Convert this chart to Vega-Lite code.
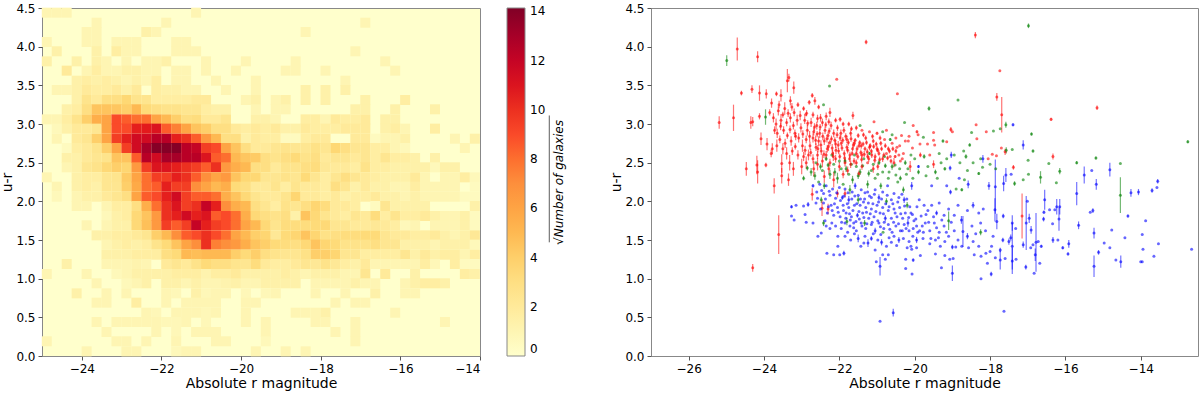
{"$schema":"https://vega.github.io/schema/vega-lite/v6.json","padding":{"left":0,"top":1,"right":0,"bottom":0},"background":"white","spacing":44,
"config":{"view":{"stroke":"#888888","strokeWidth":1},"axis":{"grid":false,"domain":false,"tickColor":"#555555","tickSize":4,"labelFontSize":12,"titleFontSize":14,"labelFont":"DejaVu Sans","titleFont":"DejaVu Sans","titleFontWeight":"normal","labelColor":"black","titleColor":"black","labelPadding":3},"legend":{"labelFont":"DejaVu Sans"}},
"hconcat":[
{"width":438,"height":348,"view":{"fill":"#ffffcc"},"resolve":{"axis":{"y":"independent"}},"layer":[
{"data":{"values":[
{"x":-24.88,"y":4.44,"v":1},{"x":-24.63,"y":4.44,"v":1},{"x":-24.38,"y":4.44,"v":1},{"x":-21.13,"y":4.44,"v":1},
{"x":-23.63,"y":4.31,"v":1},{"x":-21.88,"y":4.31,"v":1},{"x":-16.88,"y":4.31,"v":1},
{"x":-23.88,"y":4.19,"v":1},{"x":-23.63,"y":4.19,"v":1},{"x":-22.38,"y":4.19,"v":1.4},{"x":-22.13,"y":4.19,"v":1},{"x":-18.38,"y":4.19,"v":1},
{"x":-24.88,"y":4.06,"v":1},{"x":-23.88,"y":4.06,"v":1},{"x":-23.63,"y":4.06,"v":1},{"x":-23.13,"y":4.06,"v":1},{"x":-22.88,"y":4.06,"v":1},{"x":-22.63,"y":4.06,"v":1},{"x":-21.63,"y":4.06,"v":1},{"x":-21.38,"y":4.06,"v":1},
{"x":-24.63,"y":3.94,"v":1.4},{"x":-23.63,"y":3.94,"v":1.4},{"x":-23.13,"y":3.94,"v":1.7},{"x":-22.88,"y":3.94,"v":1},{"x":-22.63,"y":3.94,"v":1},{"x":-21.63,"y":3.94,"v":1},{"x":-21.38,"y":3.94,"v":1},{"x":-21.13,"y":3.94,"v":1},{"x":-17.13,"y":3.94,"v":1},
{"x":-24.88,"y":3.81,"v":1.4},{"x":-24.13,"y":3.81,"v":1.4},{"x":-23.63,"y":3.81,"v":1.4},{"x":-23.38,"y":3.81,"v":1},{"x":-22.88,"y":3.81,"v":1},{"x":-22.38,"y":3.81,"v":1},{"x":-22.13,"y":3.81,"v":1},{"x":-21.88,"y":3.81,"v":1.4},{"x":-20.88,"y":3.81,"v":1},{"x":-19.88,"y":3.81,"v":1},{"x":-18.63,"y":3.81,"v":1},{"x":-16.38,"y":3.81,"v":1},
{"x":-24.38,"y":3.69,"v":2},{"x":-23.88,"y":3.69,"v":1},{"x":-23.63,"y":3.69,"v":1.7},{"x":-23.38,"y":3.69,"v":1},{"x":-23.13,"y":3.69,"v":1},{"x":-22.88,"y":3.69,"v":1.4},{"x":-22.63,"y":3.69,"v":1.4},{"x":-22.38,"y":3.69,"v":1},{"x":-22.13,"y":3.69,"v":1},{"x":-21.63,"y":3.69,"v":1},{"x":-21.38,"y":3.69,"v":1},{"x":-20.88,"y":3.69,"v":1},{"x":-20.13,"y":3.69,"v":1},{"x":-18.88,"y":3.69,"v":1},{"x":-18.63,"y":3.69,"v":1},{"x":-17.88,"y":3.69,"v":1},{"x":-16.13,"y":3.69,"v":1},
{"x":-24.13,"y":3.56,"v":1.4},{"x":-23.88,"y":3.56,"v":1.7},{"x":-23.63,"y":3.56,"v":1.4},{"x":-23.38,"y":3.56,"v":1.7},{"x":-23.13,"y":3.56,"v":1.4},{"x":-22.88,"y":3.56,"v":1},{"x":-22.63,"y":3.56,"v":1.4},{"x":-22.38,"y":3.56,"v":1},{"x":-22.13,"y":3.56,"v":1.7},{"x":-21.63,"y":3.56,"v":1},{"x":-21.38,"y":3.56,"v":1},{"x":-20.63,"y":3.56,"v":1},{"x":-19.63,"y":3.56,"v":1},{"x":-17.38,"y":3.56,"v":1},
{"x":-24.63,"y":3.44,"v":1},{"x":-24.38,"y":3.44,"v":1},{"x":-24.13,"y":3.44,"v":1.4},{"x":-23.88,"y":3.44,"v":2},{"x":-23.63,"y":3.44,"v":1.7},{"x":-23.38,"y":3.44,"v":1.7},{"x":-23.13,"y":3.44,"v":2},{"x":-22.88,"y":3.44,"v":1.4},{"x":-22.63,"y":3.44,"v":2},{"x":-22.13,"y":3.44,"v":1.7},{"x":-21.88,"y":3.44,"v":1.4},{"x":-21.63,"y":3.44,"v":1.4},{"x":-21.38,"y":3.44,"v":1},{"x":-21.13,"y":3.44,"v":1},{"x":-20.38,"y":3.44,"v":1},{"x":-19.63,"y":3.44,"v":1},{"x":-18.38,"y":3.44,"v":1.4},{"x":-17.88,"y":3.44,"v":1.4},{"x":-17.38,"y":3.44,"v":1.4},
{"x":-24.13,"y":3.31,"v":1.4},{"x":-23.88,"y":3.31,"v":2.6},{"x":-23.63,"y":3.31,"v":2},{"x":-23.38,"y":3.31,"v":3},{"x":-23.13,"y":3.31,"v":3},{"x":-22.88,"y":3.31,"v":3.6},{"x":-22.63,"y":3.31,"v":2.6},{"x":-22.38,"y":3.31,"v":2.5},{"x":-22.13,"y":3.31,"v":1.7},{"x":-21.88,"y":3.31,"v":1.7},{"x":-21.63,"y":3.31,"v":1.7},{"x":-21.38,"y":3.31,"v":1.7},{"x":-21.13,"y":3.31,"v":2},{"x":-20.88,"y":3.31,"v":2},{"x":-19.88,"y":3.31,"v":1},{"x":-19.63,"y":3.31,"v":1.4},{"x":-19.13,"y":3.31,"v":1},{"x":-18.88,"y":3.31,"v":1.4},{"x":-18.38,"y":3.31,"v":1.4},{"x":-17.88,"y":3.31,"v":1.4},{"x":-16.88,"y":3.31,"v":1.4},{"x":-15.88,"y":3.31,"v":1.7},
{"x":-24.38,"y":3.19,"v":1.4},{"x":-24.13,"y":3.19,"v":1.7},{"x":-23.88,"y":3.19,"v":3},{"x":-23.63,"y":3.19,"v":4.5},{"x":-23.38,"y":3.19,"v":4.5},{"x":-23.13,"y":3.19,"v":4.4},{"x":-22.88,"y":3.19,"v":4},{"x":-22.63,"y":3.19,"v":5},{"x":-22.38,"y":3.19,"v":3.4},{"x":-22.13,"y":3.19,"v":3},{"x":-21.88,"y":3.19,"v":2.7},{"x":-21.63,"y":3.19,"v":2.7},{"x":-21.38,"y":3.19,"v":2.4},{"x":-21.13,"y":3.19,"v":2.4},{"x":-20.88,"y":3.19,"v":1.7},{"x":-20.63,"y":3.19,"v":1.4},{"x":-20.38,"y":3.19,"v":1.4},{"x":-19.63,"y":3.19,"v":1},{"x":-19.13,"y":3.19,"v":1},{"x":-18.88,"y":3.19,"v":1},{"x":-17.13,"y":3.19,"v":1.4},{"x":-16.88,"y":3.19,"v":1.4},{"x":-16.13,"y":3.19,"v":1.4},{"x":-15.13,"y":3.19,"v":1.4},
{"x":-24.88,"y":3.06,"v":1},{"x":-24.63,"y":3.06,"v":1},{"x":-24.38,"y":3.06,"v":1.7},{"x":-24.13,"y":3.06,"v":2.6},{"x":-23.88,"y":3.06,"v":4},{"x":-23.63,"y":3.06,"v":5.5},{"x":-23.38,"y":3.06,"v":6},{"x":-23.13,"y":3.06,"v":9},{"x":-22.88,"y":3.06,"v":8.5},{"x":-22.63,"y":3.06,"v":8},{"x":-22.38,"y":3.06,"v":8},{"x":-22.13,"y":3.06,"v":6},{"x":-21.88,"y":3.06,"v":5},{"x":-21.63,"y":3.06,"v":4},{"x":-21.38,"y":3.06,"v":3},{"x":-21.13,"y":3.06,"v":3.2},{"x":-20.88,"y":3.06,"v":2},{"x":-20.63,"y":3.06,"v":2},{"x":-20.38,"y":3.06,"v":2.5},{"x":-19.63,"y":3.06,"v":1.4},{"x":-19.38,"y":3.06,"v":1.4},{"x":-19.13,"y":3.06,"v":1},{"x":-18.38,"y":3.06,"v":1.7},{"x":-18.13,"y":3.06,"v":1.7},{"x":-17.88,"y":3.06,"v":1},{"x":-17.63,"y":3.06,"v":2},{"x":-17.38,"y":3.06,"v":1.7},{"x":-17.13,"y":3.06,"v":1.7},{"x":-16.88,"y":3.06,"v":2},{"x":-16.38,"y":3.06,"v":1.4},{"x":-16.13,"y":3.06,"v":1.4},
{"x":-24.63,"y":2.94,"v":0.7},{"x":-24.38,"y":2.94,"v":1.4},{"x":-24.13,"y":2.94,"v":2},{"x":-23.88,"y":2.94,"v":2},{"x":-23.63,"y":2.94,"v":2.4},{"x":-23.38,"y":2.94,"v":6},{"x":-23.13,"y":2.94,"v":9},{"x":-22.88,"y":2.94,"v":9},{"x":-22.63,"y":2.94,"v":10.5},{"x":-22.38,"y":2.94,"v":10.6},{"x":-22.13,"y":2.94,"v":11},{"x":-21.88,"y":2.94,"v":8.5},{"x":-21.63,"y":2.94,"v":7.5},{"x":-21.38,"y":2.94,"v":6},{"x":-21.13,"y":2.94,"v":4.5},{"x":-20.88,"y":2.94,"v":4},{"x":-20.63,"y":2.94,"v":3},{"x":-20.38,"y":2.94,"v":3},{"x":-20.13,"y":2.94,"v":2},{"x":-19.88,"y":2.94,"v":1.7},{"x":-19.63,"y":2.94,"v":2},{"x":-19.38,"y":2.94,"v":1.7},{"x":-19.13,"y":2.94,"v":2},{"x":-18.88,"y":2.94,"v":1.4},{"x":-18.63,"y":2.94,"v":1.4},{"x":-18.38,"y":2.94,"v":2},{"x":-18.13,"y":2.94,"v":1.7},{"x":-17.88,"y":2.94,"v":1.7},{"x":-17.63,"y":2.94,"v":1.7},{"x":-17.38,"y":2.94,"v":2},{"x":-17.13,"y":2.94,"v":2},{"x":-16.88,"y":2.94,"v":2},{"x":-16.38,"y":2.94,"v":1.4},{"x":-16.13,"y":2.94,"v":1.7},{"x":-15.88,"y":2.94,"v":1},{"x":-15.13,"y":2.94,"v":1.7},
{"x":-24.63,"y":2.81,"v":1},{"x":-24.13,"y":2.81,"v":2},{"x":-23.88,"y":2.81,"v":2.4},{"x":-23.63,"y":2.81,"v":4},{"x":-23.38,"y":2.81,"v":6},{"x":-23.13,"y":2.81,"v":9.5},{"x":-22.88,"y":2.81,"v":10.5},{"x":-22.63,"y":2.81,"v":11.5},{"x":-22.38,"y":2.81,"v":11.5},{"x":-22.13,"y":2.81,"v":12.5},{"x":-21.88,"y":2.81,"v":12.5},{"x":-21.63,"y":2.81,"v":10.5},{"x":-21.38,"y":2.81,"v":10},{"x":-21.13,"y":2.81,"v":8.5},{"x":-20.88,"y":2.81,"v":6.5},{"x":-20.63,"y":2.81,"v":5},{"x":-20.38,"y":2.81,"v":3},{"x":-20.13,"y":2.81,"v":3},{"x":-19.88,"y":2.81,"v":1.4},{"x":-19.63,"y":2.81,"v":2},{"x":-19.38,"y":2.81,"v":1.7},{"x":-19.13,"y":2.81,"v":1.7},{"x":-18.88,"y":2.81,"v":0.5},{"x":-18.63,"y":2.81,"v":0.5},{"x":-18.38,"y":2.81,"v":1.7},{"x":-18.13,"y":2.81,"v":2},{"x":-17.88,"y":2.81,"v":2},{"x":-17.13,"y":2.81,"v":2},{"x":-16.88,"y":2.81,"v":2},{"x":-16.63,"y":2.81,"v":0.5},{"x":-16.38,"y":2.81,"v":1},{"x":-16.13,"y":2.81,"v":1},{"x":-15.88,"y":2.81,"v":1.4},{"x":-14.63,"y":2.81,"v":1},{"x":-14.13,"y":2.81,"v":1.4},
{"x":-24.38,"y":2.69,"v":0.5},{"x":-24.13,"y":2.69,"v":1.7},{"x":-23.88,"y":2.69,"v":2},{"x":-23.63,"y":2.69,"v":2.6},{"x":-23.38,"y":2.69,"v":4},{"x":-23.13,"y":2.69,"v":6},{"x":-22.88,"y":2.69,"v":9.5},{"x":-22.63,"y":2.69,"v":11.5},{"x":-22.38,"y":2.69,"v":13},{"x":-22.13,"y":2.69,"v":14},{"x":-21.88,"y":2.69,"v":14},{"x":-21.63,"y":2.69,"v":14},{"x":-21.38,"y":2.69,"v":12.5},{"x":-21.13,"y":2.69,"v":12},{"x":-20.88,"y":2.69,"v":9.5},{"x":-20.63,"y":2.69,"v":9},{"x":-20.38,"y":2.69,"v":6},{"x":-20.13,"y":2.69,"v":4.5},{"x":-19.88,"y":2.69,"v":3},{"x":-19.63,"y":2.69,"v":2},{"x":-19.38,"y":2.69,"v":2},{"x":-19.13,"y":2.69,"v":2.4},{"x":-18.88,"y":2.69,"v":2.6},{"x":-18.63,"y":2.69,"v":2.4},{"x":-18.38,"y":2.69,"v":2.4},{"x":-18.13,"y":2.69,"v":2.8},{"x":-17.88,"y":2.69,"v":2.4},{"x":-17.63,"y":2.69,"v":3.6},{"x":-17.38,"y":2.69,"v":3},{"x":-17.13,"y":2.69,"v":2.4},{"x":-16.88,"y":2.69,"v":2.4},{"x":-16.63,"y":2.69,"v":1.7},{"x":-16.38,"y":2.69,"v":1.7},{"x":-16.13,"y":2.69,"v":1},{"x":-15.88,"y":2.69,"v":0.7},{"x":-14.38,"y":2.69,"v":1},
{"x":-24.38,"y":2.56,"v":1.4},{"x":-24.13,"y":2.56,"v":1.4},{"x":-23.88,"y":2.56,"v":2},{"x":-23.63,"y":2.56,"v":2.4},{"x":-23.38,"y":2.56,"v":2.6},{"x":-23.13,"y":2.56,"v":4.5},{"x":-22.88,"y":2.56,"v":4.5},{"x":-22.63,"y":2.56,"v":8.5},{"x":-22.38,"y":2.56,"v":12.5},{"x":-22.13,"y":2.56,"v":11.5},{"x":-21.88,"y":2.56,"v":13},{"x":-21.63,"y":2.56,"v":13},{"x":-21.38,"y":2.56,"v":12.5},{"x":-21.13,"y":2.56,"v":12.5},{"x":-20.88,"y":2.56,"v":11},{"x":-20.63,"y":2.56,"v":8.5},{"x":-20.38,"y":2.56,"v":8},{"x":-20.13,"y":2.56,"v":5},{"x":-19.88,"y":2.56,"v":4.4},{"x":-19.63,"y":2.56,"v":4.2},{"x":-19.38,"y":2.56,"v":3},{"x":-19.13,"y":2.56,"v":2.6},{"x":-18.88,"y":2.56,"v":3},{"x":-18.63,"y":2.56,"v":3.4},{"x":-18.38,"y":2.56,"v":2.7},{"x":-18.13,"y":2.56,"v":3},{"x":-17.88,"y":2.56,"v":2},{"x":-17.63,"y":2.56,"v":2.4},{"x":-17.38,"y":2.56,"v":2.4},{"x":-17.13,"y":2.56,"v":2},{"x":-16.88,"y":2.56,"v":2.4},{"x":-16.63,"y":2.56,"v":1.7},{"x":-16.38,"y":2.56,"v":2.4},{"x":-16.13,"y":2.56,"v":1.7},{"x":-15.88,"y":2.56,"v":1.7},{"x":-15.63,"y":2.56,"v":1.4},{"x":-15.13,"y":2.56,"v":1.4},
{"x":-24.38,"y":2.44,"v":1},{"x":-24.13,"y":2.44,"v":1.4},{"x":-23.88,"y":2.44,"v":2.4},{"x":-23.63,"y":2.44,"v":2.7},{"x":-23.38,"y":2.44,"v":3.5},{"x":-23.13,"y":2.44,"v":4},{"x":-22.88,"y":2.44,"v":3.7},{"x":-22.63,"y":2.44,"v":6.5},{"x":-22.38,"y":2.44,"v":9.5},{"x":-22.13,"y":2.44,"v":11},{"x":-21.88,"y":2.44,"v":11},{"x":-21.63,"y":2.44,"v":10.5},{"x":-21.38,"y":2.44,"v":10},{"x":-21.13,"y":2.44,"v":9.5},{"x":-20.88,"y":2.44,"v":8.5},{"x":-20.63,"y":2.44,"v":10},{"x":-20.38,"y":2.44,"v":6.5},{"x":-20.13,"y":2.44,"v":5.5},{"x":-19.88,"y":2.44,"v":5},{"x":-19.63,"y":2.44,"v":3},{"x":-19.38,"y":2.44,"v":3},{"x":-19.13,"y":2.44,"v":2},{"x":-18.88,"y":2.44,"v":2.6},{"x":-18.63,"y":2.44,"v":2.6},{"x":-18.38,"y":2.44,"v":3},{"x":-18.13,"y":2.44,"v":3.2},{"x":-17.88,"y":2.44,"v":2.2},{"x":-17.63,"y":2.44,"v":2},{"x":-17.38,"y":2.44,"v":2},{"x":-17.13,"y":2.44,"v":1.7},{"x":-16.88,"y":2.44,"v":2.7},{"x":-16.63,"y":2.44,"v":1.7},{"x":-16.38,"y":2.44,"v":1.7},{"x":-16.13,"y":2.44,"v":1.4},{"x":-15.88,"y":2.44,"v":1.4},{"x":-15.63,"y":2.44,"v":1.4},{"x":-15.38,"y":2.44,"v":1.4},{"x":-15.13,"y":2.44,"v":0.7},{"x":-14.88,"y":2.44,"v":1.4},{"x":-14.63,"y":2.44,"v":1.4},
{"x":-24.88,"y":2.31,"v":1},{"x":-24.13,"y":2.31,"v":1.4},{"x":-23.88,"y":2.31,"v":1.7},{"x":-23.63,"y":2.31,"v":1.7},{"x":-23.38,"y":2.31,"v":2.4},{"x":-23.13,"y":2.31,"v":2.5},{"x":-22.88,"y":2.31,"v":4.2},{"x":-22.63,"y":2.31,"v":6},{"x":-22.38,"y":2.31,"v":8},{"x":-22.13,"y":2.31,"v":9.5},{"x":-21.88,"y":2.31,"v":9.5},{"x":-21.63,"y":2.31,"v":10.5},{"x":-21.38,"y":2.31,"v":10},{"x":-21.13,"y":2.31,"v":8.5},{"x":-20.88,"y":2.31,"v":7},{"x":-20.63,"y":2.31,"v":6},{"x":-20.38,"y":2.31,"v":6.5},{"x":-20.13,"y":2.31,"v":4.5},{"x":-19.88,"y":2.31,"v":3.6},{"x":-19.63,"y":2.31,"v":3.6},{"x":-19.38,"y":2.31,"v":2.4},{"x":-19.13,"y":2.31,"v":2.4},{"x":-18.88,"y":2.31,"v":2.7},{"x":-18.63,"y":2.31,"v":2.4},{"x":-18.38,"y":2.31,"v":3.4},{"x":-18.13,"y":2.31,"v":2.4},{"x":-17.88,"y":2.31,"v":1.7},{"x":-17.63,"y":2.31,"v":2.4},{"x":-17.38,"y":2.31,"v":3},{"x":-17.13,"y":2.31,"v":2.4},{"x":-16.88,"y":2.31,"v":2},{"x":-16.63,"y":2.31,"v":1.7},{"x":-16.38,"y":2.31,"v":1.4},{"x":-16.13,"y":2.31,"v":1.4},{"x":-15.88,"y":2.31,"v":1.4},{"x":-15.63,"y":2.31,"v":2},{"x":-15.38,"y":2.31,"v":1},{"x":-14.88,"y":2.31,"v":1},{"x":-14.63,"y":2.31,"v":1},{"x":-14.38,"y":2.31,"v":1.7},{"x":-14.13,"y":2.31,"v":0.7},
{"x":-24.63,"y":2.19,"v":1},{"x":-24.13,"y":2.19,"v":1.4},{"x":-23.88,"y":2.19,"v":1.7},{"x":-23.63,"y":2.19,"v":1.4},{"x":-23.38,"y":2.19,"v":2.4},{"x":-23.13,"y":2.19,"v":2.4},{"x":-22.88,"y":2.19,"v":4},{"x":-22.63,"y":2.19,"v":5.7},{"x":-22.38,"y":2.19,"v":8},{"x":-22.13,"y":2.19,"v":8.5},{"x":-21.88,"y":2.19,"v":10.5},{"x":-21.63,"y":2.19,"v":9.5},{"x":-21.38,"y":2.19,"v":9.5},{"x":-21.13,"y":2.19,"v":7},{"x":-20.88,"y":2.19,"v":6},{"x":-20.63,"y":2.19,"v":5},{"x":-20.38,"y":2.19,"v":5.5},{"x":-20.13,"y":2.19,"v":3.4},{"x":-19.88,"y":2.19,"v":3},{"x":-19.63,"y":2.19,"v":2},{"x":-19.38,"y":2.19,"v":2},{"x":-19.13,"y":2.19,"v":2.5},{"x":-18.88,"y":2.19,"v":1.7},{"x":-18.63,"y":2.19,"v":2.5},{"x":-18.38,"y":2.19,"v":2},{"x":-18.13,"y":2.19,"v":2},{"x":-17.88,"y":2.19,"v":1.7},{"x":-17.63,"y":2.19,"v":3},{"x":-17.38,"y":2.19,"v":2.4},{"x":-17.13,"y":2.19,"v":1.4},{"x":-16.88,"y":2.19,"v":2},{"x":-16.63,"y":2.19,"v":1.4},{"x":-16.38,"y":2.19,"v":1.4},{"x":-16.13,"y":2.19,"v":1},{"x":-15.88,"y":2.19,"v":1},{"x":-15.63,"y":2.19,"v":1.7},{"x":-15.38,"y":2.19,"v":1},{"x":-15.13,"y":2.19,"v":1},{"x":-14.88,"y":2.19,"v":1},{"x":-14.63,"y":2.19,"v":1},{"x":-14.13,"y":2.19,"v":0.5},
{"x":-24.63,"y":2.06,"v":0.7},{"x":-24.13,"y":2.06,"v":1},{"x":-23.88,"y":2.06,"v":1.4},{"x":-23.63,"y":2.06,"v":1.4},{"x":-23.38,"y":2.06,"v":2},{"x":-23.13,"y":2.06,"v":2.4},{"x":-22.88,"y":2.06,"v":3},{"x":-22.63,"y":2.06,"v":6},{"x":-22.38,"y":2.06,"v":8.5},{"x":-22.13,"y":2.06,"v":9},{"x":-21.88,"y":2.06,"v":10.5},{"x":-21.63,"y":2.06,"v":11.5},{"x":-21.38,"y":2.06,"v":9.5},{"x":-21.13,"y":2.06,"v":8.5},{"x":-20.88,"y":2.06,"v":8.5},{"x":-20.63,"y":2.06,"v":8},{"x":-20.38,"y":2.06,"v":5.5},{"x":-20.13,"y":2.06,"v":4.5},{"x":-19.88,"y":2.06,"v":3.5},{"x":-19.63,"y":2.06,"v":2.5},{"x":-19.38,"y":2.06,"v":2},{"x":-19.13,"y":2.06,"v":2},{"x":-18.88,"y":2.06,"v":2.5},{"x":-18.63,"y":2.06,"v":3.7},{"x":-18.38,"y":2.06,"v":2},{"x":-18.13,"y":2.06,"v":2},{"x":-17.88,"y":2.06,"v":1.7},{"x":-17.63,"y":2.06,"v":2},{"x":-17.38,"y":2.06,"v":1.4},{"x":-17.13,"y":2.06,"v":1.7},{"x":-16.88,"y":2.06,"v":1.7},{"x":-16.63,"y":2.06,"v":2},{"x":-16.38,"y":2.06,"v":1.4},{"x":-16.13,"y":2.06,"v":1.4},{"x":-15.88,"y":2.06,"v":1},{"x":-15.63,"y":2.06,"v":1.4},{"x":-15.38,"y":2.06,"v":1},{"x":-15.13,"y":2.06,"v":1},{"x":-14.88,"y":2.06,"v":1},{"x":-14.63,"y":2.06,"v":1},{"x":-14.38,"y":2.06,"v":0.5},{"x":-14.13,"y":2.06,"v":0.5},
{"x":-24.13,"y":1.94,"v":1},{"x":-23.88,"y":1.94,"v":1},{"x":-23.38,"y":1.94,"v":1},{"x":-23.13,"y":1.94,"v":1.7},{"x":-22.88,"y":1.94,"v":1.7},{"x":-22.63,"y":1.94,"v":3},{"x":-22.38,"y":1.94,"v":5.5},{"x":-22.13,"y":1.94,"v":8},{"x":-21.88,"y":1.94,"v":10},{"x":-21.63,"y":1.94,"v":11},{"x":-21.38,"y":1.94,"v":9.5},{"x":-21.13,"y":1.94,"v":10},{"x":-20.88,"y":1.94,"v":12},{"x":-20.63,"y":1.94,"v":10.5},{"x":-20.38,"y":1.94,"v":7},{"x":-20.13,"y":1.94,"v":5.5},{"x":-19.88,"y":1.94,"v":5},{"x":-19.63,"y":1.94,"v":3},{"x":-19.38,"y":1.94,"v":2.4},{"x":-19.13,"y":1.94,"v":1.7},{"x":-18.88,"y":1.94,"v":2.7},{"x":-18.63,"y":1.94,"v":2.4},{"x":-18.38,"y":1.94,"v":3},{"x":-18.13,"y":1.94,"v":3.7},{"x":-17.88,"y":1.94,"v":3.2},{"x":-17.63,"y":1.94,"v":2},{"x":-17.38,"y":1.94,"v":2},{"x":-17.13,"y":1.94,"v":1.7},{"x":-16.63,"y":1.94,"v":0.5},{"x":-16.38,"y":1.94,"v":2.4},{"x":-16.13,"y":1.94,"v":1.4},{"x":-15.88,"y":1.94,"v":1.4},{"x":-15.63,"y":1.94,"v":1.4},{"x":-15.38,"y":1.94,"v":1.4},{"x":-14.13,"y":1.94,"v":1.4},
{"x":-23.38,"y":1.81,"v":0.7},{"x":-23.13,"y":1.81,"v":1.4},{"x":-22.88,"y":1.81,"v":1.7},{"x":-22.63,"y":1.81,"v":3.5},{"x":-22.38,"y":1.81,"v":4.5},{"x":-22.13,"y":1.81,"v":6.5},{"x":-21.88,"y":1.81,"v":10},{"x":-21.63,"y":1.81,"v":10.5},{"x":-21.38,"y":1.81,"v":11.5},{"x":-21.13,"y":1.81,"v":10.5},{"x":-20.88,"y":1.81,"v":11},{"x":-20.63,"y":1.81,"v":8.5},{"x":-20.38,"y":1.81,"v":9},{"x":-20.13,"y":1.81,"v":8},{"x":-19.88,"y":1.81,"v":5.5},{"x":-19.63,"y":1.81,"v":3.5},{"x":-19.38,"y":1.81,"v":3},{"x":-19.13,"y":1.81,"v":2.7},{"x":-18.88,"y":1.81,"v":3},{"x":-18.63,"y":1.81,"v":1.4},{"x":-18.38,"y":1.81,"v":4.5},{"x":-18.13,"y":1.81,"v":3.5},{"x":-17.88,"y":1.81,"v":2.5},{"x":-17.63,"y":1.81,"v":2},{"x":-17.38,"y":1.81,"v":1.7},{"x":-17.13,"y":1.81,"v":2.4},{"x":-16.88,"y":1.81,"v":2},{"x":-16.63,"y":1.81,"v":3.2},{"x":-16.38,"y":1.81,"v":1.7},{"x":-16.13,"y":1.81,"v":2.5},{"x":-15.88,"y":1.81,"v":1.7},{"x":-15.63,"y":1.81,"v":1.7},{"x":-15.38,"y":1.81,"v":2},{"x":-15.13,"y":1.81,"v":1.4},{"x":-14.88,"y":1.81,"v":1},{"x":-14.63,"y":1.81,"v":1},{"x":-14.38,"y":1.81,"v":1.4},{"x":-14.13,"y":1.81,"v":0.5},
{"x":-23.88,"y":1.69,"v":1},{"x":-23.38,"y":1.69,"v":1},{"x":-23.13,"y":1.69,"v":1.4},{"x":-22.88,"y":1.69,"v":1.4},{"x":-22.63,"y":1.69,"v":3.5},{"x":-22.38,"y":1.69,"v":4.7},{"x":-22.13,"y":1.69,"v":6.5},{"x":-21.88,"y":1.69,"v":9.5},{"x":-21.63,"y":1.69,"v":8.5},{"x":-21.38,"y":1.69,"v":9.5},{"x":-21.13,"y":1.69,"v":12},{"x":-20.88,"y":1.69,"v":10.5},{"x":-20.63,"y":1.69,"v":9.5},{"x":-20.38,"y":1.69,"v":9},{"x":-20.13,"y":1.69,"v":8},{"x":-19.88,"y":1.69,"v":6},{"x":-19.63,"y":1.69,"v":5},{"x":-19.38,"y":1.69,"v":3.5},{"x":-19.13,"y":1.69,"v":2.5},{"x":-18.88,"y":1.69,"v":3.2},{"x":-18.63,"y":1.69,"v":3.2},{"x":-18.38,"y":1.69,"v":3.2},{"x":-18.13,"y":1.69,"v":3.4},{"x":-17.88,"y":1.69,"v":3.5},{"x":-17.63,"y":1.69,"v":2.4},{"x":-17.38,"y":1.69,"v":2.4},{"x":-17.13,"y":1.69,"v":2},{"x":-16.88,"y":1.69,"v":2},{"x":-16.63,"y":1.69,"v":2.2},{"x":-16.38,"y":1.69,"v":2},{"x":-16.13,"y":1.69,"v":1.7},{"x":-15.88,"y":1.69,"v":0.7},{"x":-15.63,"y":1.69,"v":1},{"x":-15.13,"y":1.69,"v":1},{"x":-14.88,"y":1.69,"v":1},{"x":-14.63,"y":1.69,"v":1},{"x":-14.38,"y":1.69,"v":1.4},{"x":-14.13,"y":1.69,"v":0.5},
{"x":-23.63,"y":1.56,"v":1.4},{"x":-23.38,"y":1.56,"v":1.4},{"x":-23.13,"y":1.56,"v":1.7},{"x":-22.88,"y":1.56,"v":1.7},{"x":-22.63,"y":1.56,"v":2},{"x":-22.38,"y":1.56,"v":2.4},{"x":-22.13,"y":1.56,"v":4},{"x":-21.88,"y":1.56,"v":5},{"x":-21.63,"y":1.56,"v":7},{"x":-21.38,"y":1.56,"v":8.5},{"x":-21.13,"y":1.56,"v":9},{"x":-20.88,"y":1.56,"v":10},{"x":-20.63,"y":1.56,"v":9},{"x":-20.38,"y":1.56,"v":8},{"x":-20.13,"y":1.56,"v":6},{"x":-19.88,"y":1.56,"v":5},{"x":-19.63,"y":1.56,"v":4},{"x":-19.38,"y":1.56,"v":3.7},{"x":-19.13,"y":1.56,"v":2.2},{"x":-18.88,"y":1.56,"v":3.4},{"x":-18.63,"y":1.56,"v":3.7},{"x":-18.38,"y":1.56,"v":4.5},{"x":-18.13,"y":1.56,"v":3.7},{"x":-17.88,"y":1.56,"v":2.8},{"x":-17.63,"y":1.56,"v":3},{"x":-17.38,"y":1.56,"v":3.2},{"x":-17.13,"y":1.56,"v":3.2},{"x":-16.88,"y":1.56,"v":3.4},{"x":-16.63,"y":1.56,"v":3.4},{"x":-16.38,"y":1.56,"v":2.4},{"x":-16.13,"y":1.56,"v":2},{"x":-15.88,"y":1.56,"v":2},{"x":-15.63,"y":1.56,"v":1.7},{"x":-15.38,"y":1.56,"v":1.7},{"x":-15.13,"y":1.56,"v":2},{"x":-14.88,"y":1.56,"v":1.4},{"x":-14.63,"y":1.56,"v":1},{"x":-14.38,"y":1.56,"v":1.4},{"x":-14.13,"y":1.56,"v":2.2},
{"x":-23.38,"y":1.44,"v":1},{"x":-23.13,"y":1.44,"v":1.4},{"x":-22.88,"y":1.44,"v":1.7},{"x":-22.63,"y":1.44,"v":1.4},{"x":-22.38,"y":1.44,"v":1.7},{"x":-22.13,"y":1.44,"v":2.6},{"x":-21.88,"y":1.44,"v":3.4},{"x":-21.63,"y":1.44,"v":4.5},{"x":-21.38,"y":1.44,"v":6},{"x":-21.13,"y":1.44,"v":7},{"x":-20.88,"y":1.44,"v":10},{"x":-20.63,"y":1.44,"v":7.5},{"x":-20.38,"y":1.44,"v":7},{"x":-20.13,"y":1.44,"v":6.5},{"x":-19.88,"y":1.44,"v":5.5},{"x":-19.63,"y":1.44,"v":4.5},{"x":-19.38,"y":1.44,"v":4},{"x":-19.13,"y":1.44,"v":3.4},{"x":-18.88,"y":1.44,"v":3.2},{"x":-18.63,"y":1.44,"v":3},{"x":-18.38,"y":1.44,"v":3.5},{"x":-18.13,"y":1.44,"v":4.5},{"x":-17.88,"y":1.44,"v":3.7},{"x":-17.63,"y":1.44,"v":3.4},{"x":-17.38,"y":1.44,"v":2.7},{"x":-17.13,"y":1.44,"v":2.7},{"x":-16.88,"y":1.44,"v":2.7},{"x":-16.63,"y":1.44,"v":3},{"x":-16.38,"y":1.44,"v":2.4},{"x":-16.13,"y":1.44,"v":2.4},{"x":-15.88,"y":1.44,"v":1.4},{"x":-15.63,"y":1.44,"v":1.4},{"x":-15.38,"y":1.44,"v":1.4},{"x":-15.13,"y":1.44,"v":1},{"x":-14.88,"y":1.44,"v":1.4},{"x":-14.63,"y":1.44,"v":1.4},{"x":-14.38,"y":1.44,"v":1.4},{"x":-14.13,"y":1.44,"v":0.7},
{"x":-23.38,"y":1.31,"v":1.4},{"x":-23.13,"y":1.31,"v":1.4},{"x":-22.88,"y":1.31,"v":1.4},{"x":-22.63,"y":1.31,"v":1.7},{"x":-22.38,"y":1.31,"v":1.7},{"x":-22.13,"y":1.31,"v":1.7},{"x":-21.88,"y":1.31,"v":3},{"x":-21.63,"y":1.31,"v":3.4},{"x":-21.38,"y":1.31,"v":5},{"x":-21.13,"y":1.31,"v":4.8},{"x":-20.88,"y":1.31,"v":5},{"x":-20.63,"y":1.31,"v":5},{"x":-20.38,"y":1.31,"v":5},{"x":-20.13,"y":1.31,"v":4},{"x":-19.88,"y":1.31,"v":3.4},{"x":-19.63,"y":1.31,"v":4},{"x":-19.38,"y":1.31,"v":3},{"x":-19.13,"y":1.31,"v":2.6},{"x":-18.88,"y":1.31,"v":2.4},{"x":-18.63,"y":1.31,"v":2.4},{"x":-18.38,"y":1.31,"v":2.8},{"x":-18.13,"y":1.31,"v":4},{"x":-17.88,"y":1.31,"v":4},{"x":-17.63,"y":1.31,"v":3.7},{"x":-17.38,"y":1.31,"v":2.4},{"x":-17.13,"y":1.31,"v":2.4},{"x":-16.88,"y":1.31,"v":1.7},{"x":-16.63,"y":1.31,"v":1.7},{"x":-16.38,"y":1.31,"v":1.7},{"x":-16.13,"y":1.31,"v":1.7},{"x":-15.88,"y":1.31,"v":2.4},{"x":-15.63,"y":1.31,"v":1.4},{"x":-15.38,"y":1.31,"v":2},{"x":-15.13,"y":1.31,"v":1.4},{"x":-14.88,"y":1.31,"v":1.7},{"x":-14.63,"y":1.31,"v":1.7},{"x":-14.38,"y":1.31,"v":1},{"x":-14.13,"y":1.31,"v":1.7},
{"x":-24.38,"y":1.19,"v":1.4},{"x":-23.38,"y":1.19,"v":1},{"x":-23.13,"y":1.19,"v":1},{"x":-22.88,"y":1.19,"v":1},{"x":-22.63,"y":1.19,"v":1.2},{"x":-22.38,"y":1.19,"v":1},{"x":-21.88,"y":1.19,"v":2},{"x":-21.63,"y":1.19,"v":2.4},{"x":-21.38,"y":1.19,"v":2},{"x":-21.13,"y":1.19,"v":2.7},{"x":-20.88,"y":1.19,"v":3.4},{"x":-20.63,"y":1.19,"v":3},{"x":-20.38,"y":1.19,"v":3},{"x":-20.13,"y":1.19,"v":2.5},{"x":-19.88,"y":1.19,"v":2.4},{"x":-19.63,"y":1.19,"v":3.2},{"x":-19.38,"y":1.19,"v":2},{"x":-19.13,"y":1.19,"v":1.7},{"x":-18.88,"y":1.19,"v":1.7},{"x":-18.63,"y":1.19,"v":2},{"x":-18.38,"y":1.19,"v":2.4},{"x":-18.13,"y":1.19,"v":2.2},{"x":-17.88,"y":1.19,"v":2.7},{"x":-17.63,"y":1.19,"v":2.2},{"x":-17.38,"y":1.19,"v":1.7},{"x":-17.13,"y":1.19,"v":1.4},{"x":-16.88,"y":1.19,"v":2},{"x":-16.63,"y":1.19,"v":1},{"x":-16.38,"y":1.19,"v":1},{"x":-16.13,"y":1.19,"v":1},{"x":-15.88,"y":1.19,"v":1},{"x":-15.63,"y":1.19,"v":1},{"x":-15.38,"y":1.19,"v":1.7},{"x":-15.13,"y":1.19,"v":0.8},{"x":-14.63,"y":1.19,"v":1.7},{"x":-14.38,"y":1.19,"v":0.5},{"x":-14.13,"y":1.19,"v":0.5},
{"x":-24.88,"y":1.06,"v":1},{"x":-23.88,"y":1.06,"v":1},{"x":-23.13,"y":1.06,"v":0.7},{"x":-22.88,"y":1.06,"v":1},{"x":-22.63,"y":1.06,"v":1.4},{"x":-22.38,"y":1.06,"v":1.4},{"x":-22.13,"y":1.06,"v":1.4},{"x":-21.88,"y":1.06,"v":1.4},{"x":-21.63,"y":1.06,"v":1.7},{"x":-21.38,"y":1.06,"v":1.7},{"x":-21.13,"y":1.06,"v":1.7},{"x":-20.88,"y":1.06,"v":1.2},{"x":-20.63,"y":1.06,"v":1.7},{"x":-20.38,"y":1.06,"v":1.7},{"x":-20.13,"y":1.06,"v":2},{"x":-19.88,"y":1.06,"v":1.4},{"x":-19.63,"y":1.06,"v":1.4},{"x":-19.38,"y":1.06,"v":1.4},{"x":-19.13,"y":1.06,"v":1.4},{"x":-18.88,"y":1.06,"v":1.7},{"x":-18.63,"y":1.06,"v":1.4},{"x":-18.38,"y":1.06,"v":1},{"x":-18.13,"y":1.06,"v":1.4},{"x":-17.88,"y":1.06,"v":1.4},{"x":-17.63,"y":1.06,"v":1.4},{"x":-17.38,"y":1.06,"v":1},{"x":-17.13,"y":1.06,"v":1},{"x":-16.88,"y":1.06,"v":2.4},{"x":-16.38,"y":1.06,"v":2},{"x":-15.63,"y":1.06,"v":1.4},{"x":-14.38,"y":1.06,"v":1.7},{"x":-14.13,"y":1.06,"v":1.4},
{"x":-23.63,"y":0.94,"v":1},{"x":-22.88,"y":0.94,"v":0.7},{"x":-22.63,"y":0.94,"v":1},{"x":-22.38,"y":0.94,"v":1.4},{"x":-21.88,"y":0.94,"v":1.4},{"x":-21.63,"y":0.94,"v":1.4},{"x":-21.38,"y":0.94,"v":1},{"x":-21.13,"y":0.94,"v":1.4},{"x":-20.88,"y":0.94,"v":1},{"x":-20.63,"y":0.94,"v":1},{"x":-20.38,"y":0.94,"v":1.2},{"x":-20.13,"y":0.94,"v":1.4},{"x":-19.88,"y":0.94,"v":1},{"x":-19.63,"y":0.94,"v":1},{"x":-19.38,"y":0.94,"v":1.4},{"x":-19.13,"y":0.94,"v":1.4},{"x":-18.88,"y":0.94,"v":1.4},{"x":-18.63,"y":0.94,"v":1.4},{"x":-18.13,"y":0.94,"v":1},{"x":-17.88,"y":0.94,"v":1},{"x":-17.63,"y":0.94,"v":1},{"x":-17.38,"y":0.94,"v":1},{"x":-17.13,"y":0.94,"v":1.4},{"x":-16.88,"y":0.94,"v":1},{"x":-16.63,"y":0.94,"v":1},{"x":-15.88,"y":0.94,"v":1},{"x":-15.63,"y":0.94,"v":1.4},{"x":-15.38,"y":0.94,"v":1.7},{"x":-15.13,"y":0.94,"v":1.7},{"x":-14.88,"y":0.94,"v":1.4},
{"x":-24.13,"y":0.81,"v":1.4},{"x":-23.38,"y":0.81,"v":1},{"x":-22.88,"y":0.81,"v":1},{"x":-21.88,"y":0.81,"v":1},{"x":-21.63,"y":0.81,"v":0.8},{"x":-21.13,"y":0.81,"v":1.4},{"x":-20.63,"y":0.81,"v":1},{"x":-20.88,"y":0.81,"v":0.8},{"x":-20.38,"y":0.81,"v":1},{"x":-19.88,"y":0.81,"v":0.8},{"x":-19.38,"y":0.81,"v":0.8},{"x":-19.13,"y":0.81,"v":1},{"x":-18.13,"y":0.81,"v":1},{"x":-17.38,"y":0.81,"v":1},{"x":-16.63,"y":0.81,"v":1.4},{"x":-15.88,"y":0.81,"v":1},{"x":-15.63,"y":0.81,"v":1},
{"x":-23.63,"y":0.69,"v":1},{"x":-23.38,"y":0.69,"v":1},{"x":-22.63,"y":0.69,"v":1.7},{"x":-21.88,"y":0.69,"v":1},{"x":-21.38,"y":0.69,"v":1},{"x":-21.13,"y":0.69,"v":1},{"x":-20.88,"y":0.69,"v":1},{"x":-20.63,"y":0.69,"v":1},{"x":-19.88,"y":0.69,"v":1},{"x":-19.63,"y":0.69,"v":1},{"x":-17.63,"y":0.69,"v":1},{"x":-17.13,"y":0.69,"v":1},{"x":-16.88,"y":0.69,"v":1},
{"x":-22.38,"y":0.56,"v":1},{"x":-22.13,"y":0.56,"v":0.8},{"x":-21.63,"y":0.56,"v":1},{"x":-21.38,"y":0.56,"v":1},{"x":-21.13,"y":0.56,"v":1},{"x":-20.88,"y":0.56,"v":0.8},{"x":-20.63,"y":0.56,"v":1},{"x":-19.88,"y":0.56,"v":1},{"x":-18.63,"y":0.56,"v":1},{"x":-18.38,"y":0.56,"v":1},{"x":-18.13,"y":0.56,"v":1},{"x":-17.88,"y":0.56,"v":1.4},{"x":-16.13,"y":0.56,"v":1},
{"x":-23.63,"y":0.44,"v":1},{"x":-23.13,"y":0.44,"v":1},{"x":-22.88,"y":0.44,"v":1},{"x":-22.63,"y":0.44,"v":1},{"x":-22.38,"y":0.44,"v":1},{"x":-22.13,"y":0.44,"v":1},{"x":-21.88,"y":0.44,"v":0.8},{"x":-21.63,"y":0.44,"v":0.8},{"x":-21.38,"y":0.44,"v":1},{"x":-20.88,"y":0.44,"v":0.8},{"x":-19.88,"y":0.44,"v":1},{"x":-19.38,"y":0.44,"v":1},{"x":-18.13,"y":0.44,"v":1},{"x":-17.88,"y":0.44,"v":1},{"x":-17.13,"y":0.44,"v":1},{"x":-14.88,"y":0.44,"v":1},
{"x":-23.38,"y":0.31,"v":1},{"x":-22.13,"y":0.31,"v":1},{"x":-21.63,"y":0.31,"v":0.8},{"x":-21.13,"y":0.31,"v":1},{"x":-20.88,"y":0.31,"v":1},{"x":-20.63,"y":0.31,"v":1},{"x":-19.38,"y":0.31,"v":1},{"x":-17.63,"y":0.31,"v":1},{"x":-17.13,"y":0.31,"v":1},
{"x":-24.88,"y":0.19,"v":1},{"x":-23.13,"y":0.19,"v":1},{"x":-22.88,"y":0.19,"v":1},{"x":-22.38,"y":0.19,"v":1},{"x":-21.63,"y":0.19,"v":1},{"x":-20.63,"y":0.19,"v":1},{"x":-20.38,"y":0.19,"v":1},{"x":-19.38,"y":0.19,"v":0.7},{"x":-17.13,"y":0.19,"v":1},
{"x":-23.88,"y":0.06,"v":1},{"x":-22.88,"y":0.06,"v":1},{"x":-22.63,"y":0.06,"v":1},{"x":-21.63,"y":0.06,"v":0.7},{"x":-21.38,"y":0.06,"v":1},{"x":-21.13,"y":0.06,"v":1},{"x":-19.63,"y":0.06,"v":1},{"x":-18.88,"y":0.06,"v":1},{"x":-18.38,"y":0.06,"v":1}
]},"mark":{"type":"rect","width":10,"height":10},"encoding":{"x":{"field":"x","type":"quantitative","scale":{"domain":[-25,-14],"nice":false,"zero":false},"axis":{"values":[-24,-22,-20,-18,-16,-14],"title":"Absolute r magnitude","titlePadding":2}},"y":{"field":"y","type":"quantitative","scale":{"domain":[0,4.5],"nice":false},"axis":{"values":[0,0.5,1,1.5,2,2.5,3,3.5,4,4.5],"format":".1f","title":"u-r","titlePadding":1}},"color":{"field":"v","type":"quantitative","scale":{"domain":[0,14.14],"range":["#ffffcc","#ffeda0","#fed976","#feb24c","#fd8d3c","#fc4e2a","#e31a1c","#bd0026","#800026"]},"legend":{"orient":"none","legendX":465,"legendY":0,"title":null,"direction":"vertical","gradientLength":348,"gradientThickness":18,"gradientStrokeColor":"#888888","gradientStrokeWidth":1,"values":[0,2,4,6,8,10,12,14],"labelFontSize":12,"labelColor":"black","labelOffset":5,"encoding":{"labels":{"update":{"baseline":{"value":"middle"}}}}}}}},
{"data":{"values":[{"x":-12.26,"y":1.47,"y2":3.11}]},"mark":{"type":"rule","color":"#333333","strokeWidth":0.8},"encoding":{"x":{"field":"x","type":"quantitative"},"y":{"field":"y","type":"quantitative","axis":{"orient":"right","labels":false,"ticks":false,"domain":false,"title":"√Number of galaxies","titleFontStyle":"italic","titleFontSize":12,"titleAngle":270,"titlePadding":85}},"y2":{"field":"y2"}}}
]},
{"width":547,"height":348,"data":{"values":[
{"m":-25.19,"c":3.02,"e":0.08,"g":"r"},{"m":-24.81,"c":3.08,"e":0.17,"g":"r"},{"m":-24.71,"c":3.97,"e":0.15,"g":"r"},{"m":-24.99,"c":3.82,"e":0.07,"g":"g"},{"m":-24.17,"c":3.87,"e":0.07,"g":"r"},{"m":-24.6,"c":3.4,"e":0.03,"g":"r"},{"m":-24.32,"c":3.45,"e":0.05,"g":"r"},{"m":-24.12,"c":3.4,"e":0.1,"g":"r"},{"m":-23.94,"c":3.39,"e":0.06,"g":"r"},{"m":-24.35,"c":3.02,"e":0.08,"g":"r"},{"m":-24.3,"c":3.03,"e":0.06,"g":"r"},{"m":-24.12,"c":3.1,"e":0.04,"g":"r"},{"m":-23.96,"c":3.09,"e":0.1,"g":"g"},{"m":-24.08,"c":2.81,"e":0.08,"g":"r"},{"m":-23.92,"c":2.74,"e":0.08,"g":"r"},{"m":-23.81,"c":2.62,"e":0.05,"g":"r"},{"m":-23.95,"c":2.47,"e":0.03,"g":"r"},{"m":-24.47,"c":2.42,"e":0.09,"g":"r"},{"m":-24.19,"c":2.47,"e":0.12,"g":"r"},{"m":-24.17,"c":2.38,"e":0.15,"g":"r"},{"m":-23.73,"c":2.2,"e":0.1,"g":"r"},{"m":-23.53,"c":2.49,"e":0.12,"g":"r"},{"m":-23.53,"c":2.33,"e":0.1,"g":"r"},{"m":-23.35,"c":2.28,"e":0.08,"g":"r"},{"m":-23.38,"c":3.56,"e":0.15,"g":"r"},{"m":-23.34,"c":3.6,"e":0.05,"g":"r"},{"m":-23.21,"c":3.47,"e":0.08,"g":"r"},{"m":-23.67,"c":3.39,"e":0.03,"g":"r"},{"m":-23.55,"c":3.37,"e":0.08,"g":"r"},{"m":-23.8,"c":3.27,"e":0.06,"g":"r"},{"m":-22.72,"c":3.37,"e":0.03,"g":"r"},{"m":-22.07,"c":3.58,"g":"r"},{"m":-22.26,"c":3.49,"g":"g"},{"m":-21.29,"c":4.06,"e":0.03,"g":"r"},{"m":-20.46,"c":3.39,"g":"r"},{"m":-21.64,"c":3.11,"e":0.05,"g":"r"},{"m":-22.25,"c":3.15,"e":0.06,"g":"r"},{"m":-22.42,"c":3.25,"g":"g"},{"m":-21.08,"c":3.03,"g":"r"},{"m":-20.27,"c":3.02,"g":"g"},
{"m":-16.98,"c":4.27,"e":0.03,"g":"g"},{"m":-18.39,"c":4.15,"e":0.04,"g":"r"},{"m":-17.74,"c":3.69,"g":"r"},{"m":-17.82,"c":3.35,"e":0.05,"g":"r"},{"m":-17.69,"c":3.12,"e":0.23,"g":"r"},{"m":-18.85,"c":3.31,"g":"g"},{"m":-19.62,"c":3.2,"e":0.03,"g":"g"},{"m":-15.16,"c":3.21,"e":0.03,"g":"r"},{"m":-16.38,"c":3.06,"e":0.02,"g":"r"},{"m":-17.39,"c":2.99,"e":0.02,"g":"b"},{"m":-17.58,"c":2.99,"e":0.04,"g":"g"},{"m":-16.9,"c":2.87,"e":0.02,"g":"g"},{"m":-17.12,"c":2.73,"e":0.06,"g":"b"},{"m":-12.75,"c":2.77,"e":0.02,"g":"g"},{"m":-18.37,"c":2.99,"g":"r"},{"m":-18.1,"c":2.9,"g":"r"},{"m":-17.91,"c":2.91,"g":"g"},{"m":-17.73,"c":2.94,"g":"g"},{"m":-18.49,"c":2.89,"g":"g"},{"m":-18.35,"c":2.81,"g":"r"},{"m":-18.54,"c":2.73,"e":0.02,"g":"g"},{"m":-19.04,"c":2.93,"e":0.03,"g":"r"},{"m":-19.0,"c":2.9,"g":"r"},{"m":-19.5,"c":2.89,"g":"r"},{"m":-19.94,"c":2.9,"e":0.02,"g":"r"},{"m":-19.91,"c":2.86,"g":"r"},{"m":-20.04,"c":2.98,"g":"r"},{"m":-20.15,"c":2.84,"g":"r"},{"m":-20.17,"c":2.78,"g":"r"},{"m":-19.77,"c":2.83,"g":"g"},{"m":-19.25,"c":2.78,"e":0.02,"g":"g"},{"m":-19.15,"c":2.77,"g":"r"},{"m":-19.5,"c":2.79,"g":"r"},{"m":-19.86,"c":2.74,"g":"r"},{"m":-20.06,"c":2.69,"g":"r"},{"m":-19.66,"c":2.74,"g":"r"},{"m":-19.47,"c":2.73,"g":"r"},
{"m":-17.7,"c":2.69,"g":"r"},{"m":-17.6,"c":2.64,"e":0.04,"g":"r"},{"m":-17.57,"c":2.66,"e":0.04,"g":"g"},{"m":-17.41,"c":2.67,"g":"g"},{"m":-16.86,"c":2.65,"e":0.02,"g":"g"},{"m":-17.94,"c":2.61,"g":"r"},{"m":-17.83,"c":2.59,"g":"r"},{"m":-18.05,"c":2.55,"g":"r"},{"m":-16.33,"c":2.58,"e":0.04,"g":"r"},{"m":-15.19,"c":2.56,"e":0.02,"g":"g"},{"m":-16.99,"c":2.53,"g":"g"},{"m":-16.44,"c":2.49,"g":"g"},{"m":-15.7,"c":2.5,"e":0.02,"g":"g"},{"m":-14.54,"c":2.49,"g":"g"},{"m":-17.38,"c":2.44,"e":0.03,"g":"r"},{"m":-16.15,"c":2.39,"e":0.04,"g":"g"},{"m":-16.66,"c":2.31,"e":0.08,"g":"g"},{"m":-15.5,"c":2.34,"e":0.11,"g":"b"},{"m":-15.3,"c":2.4,"g":"b"},{"m":-14.82,"c":2.41,"e":0.09,"g":"b"},{"m":-15.18,"c":2.22,"e":0.07,"g":"b"},{"m":-14.54,"c":2.08,"e":0.23,"g":"g"},{"m":-14.26,"c":2.11,"e":0.05,"g":"b"},{"m":-14.06,"c":2.12,"e":0.04,"g":"b"},{"m":-13.7,"c":2.14,"e":0.03,"g":"b"},{"m":-13.55,"c":2.26,"e":0.03,"g":"b"},{"m":-13.57,"c":2.18,"g":"b"},{"m":-15.7,"c":2.1,"e":0.15,"g":"b"},{"m":-16.24,"c":2.24,"g":"g"},{"m":-16.98,"c":2.35,"g":"g"},{"m":-17.12,"c":2.28,"g":"g"},{"m":-17.35,"c":2.23,"e":0.03,"g":"g"},{"m":-17.44,"c":2.35,"g":"b"},{"m":-17.58,"c":2.34,"e":0.09,"g":"b"},{"m":-17.64,"c":2.23,"e":0.1,"g":"b"},{"m":-17.86,"c":2.19,"e":0.35,"g":"b"},{"m":-18.03,"c":2.2,"e":0.05,"g":"b"},{"m":-18.19,"c":2.55,"e":0.05,"g":"b"},{"m":-19.03,"c":2.6,"e":0.04,"g":"b"},{"m":-19.06,"c":2.43,"e":0.03,"g":"b"},{"m":-18.64,"c":2.58,"e":0.03,"g":"g"},{"m":-18.25,"c":2.55,"g":"g"},{"m":-18.8,"c":2.5,"g":"g"},{"m":-18.3,"c":2.36,"e":0.02,"g":"g"},{"m":-18.6,"c":2.4,"g":"g"},{"m":-18.0,"c":2.48,"g":"g"},{"m":-18.2,"c":2.44,"g":"g"},{"m":-17.85,"c":2.42,"g":"g"},{"m":-18.82,"c":2.3,"g":"b"},{"m":-18.68,"c":2.28,"g":"g"},{"m":-18.58,"c":2.22,"e":0.05,"g":"b"},{"m":-18.75,"c":2.15,"e":0.02,"g":"g"},{"m":-19.15,"c":2.2,"g":"b"},{"m":-19.05,"c":2.12,"e":0.03,"g":"b"},{"m":-18.9,"c":2.16,"g":"g"},{"m":-19.4,"c":2.3,"g":"g"},{"m":-19.55,"c":2.2,"g":"b"},{"m":-19.7,"c":2.33,"g":"g"},{"m":-19.9,"c":2.45,"e":0.02,"g":"b"},{"m":-20.08,"c":2.2,"e":0.05,"g":"b"},{"m":-19.3,"c":2.5,"g":"g"},{"m":-19.2,"c":2.42,"e":0.02,"g":"g"},{"m":-19.5,"c":2.48,"e":0.05,"g":"r"},{"m":-19.75,"c":2.58,"e":0.03,"g":"g"},{"m":-20.0,"c":2.55,"g":"g"},{"m":-19.6,"c":2.6,"g":"r"},{"m":-19.85,"c":2.6,"e":0.03,"g":"r"},{"m":-20.1,"c":2.6,"g":"g"},{"m":-20.25,"c":2.5,"e":0.03,"g":"g"},{"m":-20.33,"c":2.55,"g":"r"},{"m":-20.12,"c":2.45,"e":0.07,"g":"r"},{"m":-20.22,"c":2.35,"g":"g"},{"m":-20.4,"c":2.42,"g":"g"},{"m":-20.5,"c":2.34,"g":"g"},{"m":-20.6,"c":2.45,"e":0.04,"g":"g"},{"m":-20.7,"c":2.3,"g":"g"},{"m":-20.85,"c":2.38,"g":"g"},{"m":-20.45,"c":2.25,"g":"g"},{"m":-20.3,"c":2.15,"e":0.04,"g":"g"},{"m":-20.55,"c":2.1,"g":"b"},
{"m":-22.95,"c":2.3,"e":0.03,"g":"g"},{"m":-22.75,"c":2.38,"e":0.05,"g":"g"},{"m":-22.62,"c":2.5,"g":"g"},{"m":-22.5,"c":2.45,"e":0.04,"g":"g"},{"m":-22.35,"c":2.55,"e":0.03,"g":"g"},{"m":-22.25,"c":2.35,"e":0.06,"g":"g"},{"m":-22.15,"c":2.48,"g":"g"},{"m":-22.05,"c":2.3,"e":0.07,"g":"g"},{"m":-21.95,"c":2.42,"g":"g"},{"m":-21.85,"c":2.52,"e":0.03,"g":"g"},{"m":-21.75,"c":2.35,"g":"g"},{"m":-21.65,"c":2.28,"e":0.05,"g":"g"},{"m":-21.55,"c":2.45,"g":"g"},{"m":-21.45,"c":2.38,"e":0.04,"g":"g"},{"m":-21.35,"c":2.55,"g":"g"},{"m":-21.25,"c":2.22,"e":0.05,"g":"g"},{"m":-21.15,"c":2.4,"g":"g"},{"m":-21.05,"c":2.3,"g":"g"},{"m":-20.95,"c":2.5,"e":0.03,"g":"g"},{"m":-20.9,"c":2.2,"e":0.04,"g":"g"},{"m":-21.72,"c":2.15,"e":0.06,"g":"g"},{"m":-21.9,"c":2.22,"g":"g"},{"m":-22.4,"c":2.2,"e":0.04,"g":"g"},{"m":-22.55,"c":2.25,"g":"g"},{"m":-22.2,"c":2.6,"g":"g"},{"m":-21.6,"c":2.6,"g":"g"},{"m":-21.2,"c":2.62,"e":0.02,"g":"g"},{"m":-20.8,"c":2.58,"g":"g"},{"m":-22.42,"c":1.72,"e":0.04,"g":"g"},{"m":-21.8,"c":1.74,"e":0.05,"g":"g"},{"m":-20.84,"c":1.6,"g":"g"},{"m":-21.33,"c":1.72,"e":0.04,"g":"g"},{"m":-22.48,"c":2.02,"e":0.04,"g":"g"},{"m":-21.5,"c":2.02,"e":0.05,"g":"g"},{"m":-20.2,"c":1.95,"e":0.04,"g":"g"},{"m":-19.1,"c":1.75,"e":0.12,"g":"g"},{"m":-18.25,"c":1.6,"e":0.04,"g":"g"},{"m":-20.75,"c":2.0,"e":0.04,"g":"g"},
{"m":-22.85,"c":2.43,"e":0.03,"g":"g"},{"m":-22.65,"c":2.33,"e":0.05,"g":"g"},{"m":-22.45,"c":2.4,"g":"g"},{"m":-22.3,"c":2.47,"e":0.03,"g":"g"},{"m":-22.12,"c":2.38,"e":0.05,"g":"g"},{"m":-22.0,"c":2.52,"g":"g"},{"m":-21.82,"c":2.42,"e":0.04,"g":"g"},{"m":-21.68,"c":2.48,"g":"g"},{"m":-21.5,"c":2.33,"e":0.04,"g":"g"},{"m":-21.38,"c":2.46,"g":"g"},{"m":-21.22,"c":2.36,"e":0.04,"g":"g"},{"m":-21.1,"c":2.48,"g":"g"},{"m":-20.98,"c":2.35,"g":"g"},{"m":-20.78,"c":2.46,"e":0.03,"g":"g"},{"m":-20.68,"c":2.38,"g":"g"},{"m":-20.52,"c":2.47,"g":"g"},{"m":-20.38,"c":2.3,"e":0.03,"g":"g"},{"m":-20.18,"c":2.42,"g":"g"},{"m":-20.05,"c":2.3,"g":"g"},{"m":-19.9,"c":2.38,"e":0.03,"g":"g"},{"m":-19.65,"c":2.45,"g":"g"},{"m":-19.45,"c":2.38,"e":0.03,"g":"g"},{"m":-19.35,"c":2.62,"g":"g"},{"m":-19.15,"c":2.55,"g":"g"},{"m":-18.95,"c":2.6,"g":"g"},{"m":-18.45,"c":2.5,"g":"g"},{"m":-18.7,"c":2.65,"g":"g"},
{"m":-23.6,"c":3.25,"e":0.05,"g":"r"},{"m":-23.45,"c":3.2,"e":0.08,"g":"r"},{"m":-23.3,"c":3.3,"e":0.06,"g":"r"},{"m":-23.2,"c":3.15,"e":0.05,"g":"r"},{"m":-23.1,"c":3.25,"e":0.03,"g":"r"},{"m":-22.95,"c":3.2,"e":0.03,"g":"r"},{"m":-22.8,"c":3.28,"e":0.03,"g":"r"},{"m":-22.65,"c":3.3,"e":0.05,"g":"r"},{"m":-22.55,"c":3.22,"e":0.03,"g":"r"},{"m":-22.35,"c":3.1,"e":0.05,"g":"r"},{"m":-23.85,"c":3.15,"e":0.04,"g":"r"},{"m":-23.75,"c":3.08,"e":0.06,"g":"r"},{"m":-23.68,"c":3.0,"e":0.07,"g":"r"},{"m":-23.55,"c":3.05,"e":0.08,"g":"r"},{"m":-23.5,"c":3.12,"e":0.04,"g":"r"},{"m":-23.4,"c":3.02,"e":0.05,"g":"r"},{"m":-23.3,"c":3.08,"e":0.06,"g":"r"},{"m":-23.22,"c":2.98,"e":0.05,"g":"r"},{"m":-23.12,"c":3.05,"e":0.07,"g":"r"},{"m":-23.02,"c":2.95,"e":0.06,"g":"r"},{"m":-22.92,"c":3.05,"e":0.05,"g":"r"},{"m":-22.85,"c":2.92,"e":0.07,"g":"r"},{"m":-22.75,"c":3.02,"e":0.06,"g":"r"},{"m":-22.68,"c":2.9,"e":0.05,"g":"r"},{"m":-22.6,"c":2.98,"e":0.05,"g":"r"},{"m":-22.52,"c":2.88,"e":0.06,"g":"r"},{"m":-22.45,"c":3.02,"e":0.05,"g":"r"},{"m":-22.38,"c":2.92,"e":0.05,"g":"r"},{"m":-22.3,"c":2.85,"e":0.05,"g":"r"},{"m":-22.22,"c":2.98,"e":0.05,"g":"r"},{"m":-22.15,"c":2.88,"e":0.05,"g":"r"},{"m":-22.05,"c":2.95,"e":0.04,"g":"r"},{"m":-21.98,"c":2.82,"e":0.04,"g":"r"},{"m":-21.88,"c":2.92,"e":0.04,"g":"r"},{"m":-21.8,"c":2.8,"e":0.05,"g":"r"},{"m":-21.7,"c":2.88,"e":0.04,"g":"r"},{"m":-21.6,"c":2.75,"e":0.04,"g":"r"},{"m":-21.5,"c":2.85,"e":0.03,"g":"r"},{"m":-21.42,"c":2.72,"e":0.04,"g":"r"},{"m":-21.3,"c":2.82,"e":0.03,"g":"r"},{"m":-21.2,"c":2.7,"e":0.04,"g":"r"},{"m":-21.1,"c":2.78,"e":0.03,"g":"r"},{"m":-21.0,"c":2.68,"e":0.04,"g":"r"},{"m":-20.9,"c":2.75,"e":0.03,"g":"r"},{"m":-20.8,"c":2.8,"g":"r"},{"m":-20.7,"c":2.68,"e":0.03,"g":"r"},{"m":-20.6,"c":2.75,"g":"r"},{"m":-20.5,"c":2.65,"e":0.03,"g":"r"},{"m":-20.4,"c":2.72,"g":"r"},{"m":-20.3,"c":2.62,"g":"r"},{"m":-23.65,"c":2.88,"e":0.06,"g":"r"},{"m":-23.58,"c":2.8,"e":0.05,"g":"r"},{"m":-23.48,"c":2.92,"e":0.05,"g":"r"},{"m":-23.38,"c":2.85,"e":0.04,"g":"r"},{"m":-23.28,"c":2.78,"e":0.06,"g":"r"},{"m":-23.18,"c":2.88,"e":0.05,"g":"r"},{"m":-23.08,"c":2.82,"e":0.06,"g":"r"},{"m":-22.98,"c":2.72,"e":0.08,"g":"r"},{"m":-22.88,"c":2.8,"e":0.05,"g":"r"},{"m":-22.78,"c":2.72,"e":0.05,"g":"r"},{"m":-22.7,"c":2.82,"e":0.06,"g":"r"},{"m":-22.62,"c":2.7,"e":0.05,"g":"r"},{"m":-22.55,"c":2.78,"e":0.06,"g":"r"},{"m":-22.48,"c":2.65,"e":0.05,"g":"r"},{"m":-22.4,"c":2.78,"e":0.05,"g":"r"},{"m":-22.32,"c":2.68,"e":0.05,"g":"r"},{"m":-22.25,"c":2.76,"e":0.04,"g":"r"},{"m":-22.18,"c":2.62,"e":0.05,"g":"r"},{"m":-22.1,"c":2.74,"e":0.05,"g":"r"},{"m":-22.02,"c":2.65,"e":0.04,"g":"r"},{"m":-21.95,"c":2.75,"e":0.04,"g":"r"},{"m":-21.87,"c":2.62,"e":0.04,"g":"r"},{"m":-21.8,"c":2.7,"e":0.04,"g":"r"},{"m":-21.72,"c":2.6,"e":0.04,"g":"r"},{"m":-21.65,"c":2.68,"e":0.03,"g":"r"},{"m":-21.55,"c":2.62,"e":0.04,"g":"r"},{"m":-21.48,"c":2.72,"e":0.03,"g":"r"},{"m":-21.4,"c":2.6,"e":0.04,"g":"r"},{"m":-21.32,"c":2.68,"e":0.03,"g":"r"},{"m":-21.25,"c":2.58,"e":0.03,"g":"r"},{"m":-21.15,"c":2.65,"e":0.03,"g":"r"},{"m":-21.05,"c":2.58,"e":0.04,"g":"r"},{"m":-20.95,"c":2.62,"e":0.03,"g":"r"},{"m":-20.85,"c":2.55,"e":0.04,"g":"r"},{"m":-20.75,"c":2.62,"g":"r"},{"m":-20.65,"c":2.58,"g":"r"},{"m":-20.55,"c":2.5,"e":0.06,"g":"r"},{"m":-20.42,"c":2.6,"g":"r"},{"m":-23.5,"c":2.68,"e":0.07,"g":"r"},{"m":-23.4,"c":2.62,"e":0.08,"g":"r"},{"m":-23.25,"c":2.65,"e":0.05,"g":"r"},{"m":-23.1,"c":2.6,"e":0.06,"g":"r"},{"m":-22.95,"c":2.58,"e":0.06,"g":"r"},{"m":-22.82,"c":2.6,"e":0.07,"g":"r"},{"m":-22.7,"c":2.55,"e":0.06,"g":"r"},{"m":-22.58,"c":2.6,"e":0.05,"g":"r"},{"m":-22.45,"c":2.52,"e":0.08,"g":"r"},{"m":-22.35,"c":2.6,"e":0.05,"g":"r"},{"m":-22.25,"c":2.5,"e":0.05,"g":"r"},{"m":-22.1,"c":2.55,"e":0.05,"g":"r"},{"m":-22.0,"c":2.45,"e":0.06,"g":"r"},{"m":-21.85,"c":2.5,"e":0.05,"g":"r"},{"m":-21.7,"c":2.48,"e":0.05,"g":"r"},{"m":-21.55,"c":2.5,"e":0.04,"g":"r"},{"m":-21.4,"c":2.45,"e":0.04,"g":"r"},{"m":-21.25,"c":2.5,"g":"r"},{"m":-21.1,"c":2.42,"e":0.05,"g":"r"},{"m":-23.0,"c":2.45,"e":0.1,"g":"r"},{"m":-22.68,"c":2.42,"e":0.1,"g":"r"},{"m":-22.4,"c":2.32,"e":0.08,"g":"r"},{"m":-22.15,"c":2.28,"e":0.1,"g":"r"},{"m":-21.9,"c":2.35,"e":0.05,"g":"r"},{"m":-22.72,"c":2.09,"e":0.08,"g":"r"},{"m":-22.46,"c":1.91,"e":0.1,"g":"r"},{"m":-22.3,"c":1.9,"e":0.07,"g":"r"},{"m":-22.05,"c":2.1,"e":0.05,"g":"r"},{"m":-21.85,"c":2.1,"e":0.05,"g":"r"},{"m":-24.3,"c":1.14,"e":0.05,"g":"r"},{"m":-23.61,"c":1.57,"e":0.25,"g":"r"},{"m":-17.15,"c":1.81,"e":0.29,"g":"r"},
{"m":-22.9,"c":3.12,"g":"r"},{"m":-22.7,"c":3.12,"e":0.04,"g":"r"},{"m":-22.5,"c":3.08,"e":0.05,"g":"r"},{"m":-22.1,"c":3.05,"e":0.03,"g":"r"},{"m":-21.9,"c":3.0,"e":0.03,"g":"r"},{"m":-21.75,"c":3.0,"e":0.03,"g":"r"},{"m":-21.55,"c":2.95,"e":0.03,"g":"r"},{"m":-21.4,"c":2.92,"g":"r"},{"m":-21.2,"c":2.9,"g":"r"},{"m":-21.0,"c":2.88,"e":0.02,"g":"r"},{"m":-20.85,"c":2.9,"g":"g"},{"m":-20.75,"c":2.92,"g":"r"},{"m":-20.6,"c":2.86,"g":"g"},{"m":-20.5,"c":2.82,"g":"r"},{"m":-20.35,"c":2.85,"g":"r"},{"m":-20.25,"c":2.78,"g":"r"},{"m":-20.65,"c":2.8,"e":0.02,"g":"g"},{"m":-21.45,"c":2.98,"g":"g"},
{"m":-23.31,"c":2.93,"e":0.05,"g":"r"},{"m":-23.17,"c":2.71,"e":0.04,"g":"r"},{"m":-23.04,"c":3.11,"e":0.06,"g":"r"},{"m":-22.97,"c":2.87,"e":0.05,"g":"r"},{"m":-22.91,"c":2.66,"e":0.06,"g":"r"},{"m":-22.84,"c":3.01,"e":0.04,"g":"r"},{"m":-22.79,"c":2.84,"e":0.07,"g":"r"},{"m":-22.76,"c":2.63,"e":0.05,"g":"r"},{"m":-22.66,"c":2.96,"e":0.05,"g":"r"},{"m":-22.63,"c":2.79,"e":0.06,"g":"r"},{"m":-22.59,"c":2.87,"e":0.04,"g":"r"},{"m":-22.57,"c":2.68,"e":0.05,"g":"r"},{"m":-22.51,"c":2.96,"e":0.04,"g":"r"},{"m":-22.49,"c":2.73,"e":0.06,"g":"r"},{"m":-22.44,"c":2.84,"e":0.05,"g":"r"},{"m":-22.41,"c":2.61,"e":0.05,"g":"r"},{"m":-22.36,"c":2.99,"e":0.04,"g":"r"},{"m":-22.33,"c":2.81,"e":0.05,"g":"r"},{"m":-22.29,"c":2.71,"e":0.06,"g":"r"},{"m":-22.27,"c":2.91,"e":0.04,"g":"r"},{"m":-22.21,"c":2.81,"e":0.04,"g":"r"},{"m":-22.19,"c":2.69,"e":0.05,"g":"r"},{"m":-22.16,"c":2.58,"e":0.06,"g":"r"},{"m":-22.12,"c":2.79,"e":0.04,"g":"r"},{"m":-22.09,"c":2.66,"e":0.05,"g":"r"},{"m":-22.06,"c":2.86,"e":0.04,"g":"r"},{"m":-22.03,"c":2.73,"e":0.05,"g":"r"},{"m":-21.99,"c":2.58,"e":0.04,"g":"r"},{"m":-21.96,"c":2.88,"e":0.05,"g":"r"},{"m":-21.93,"c":2.69,"e":0.04,"g":"r"},{"m":-21.91,"c":2.79,"e":0.04,"g":"r"},{"m":-21.86,"c":2.56,"e":0.04,"g":"r"},{"m":-21.83,"c":2.84,"e":0.04,"g":"r"},{"m":-21.78,"c":2.66,"e":0.04,"g":"r"},{"m":-21.76,"c":2.76,"e":0.04,"g":"r"},{"m":-21.73,"c":2.55,"e":0.04,"g":"r"},{"m":-21.69,"c":2.81,"e":0.04,"g":"r"},{"m":-21.66,"c":2.62,"e":0.03,"g":"r"},{"m":-21.63,"c":2.73,"e":0.04,"g":"r"},{"m":-21.61,"c":2.52,"e":0.04,"g":"r"},{"m":-21.58,"c":2.79,"e":0.03,"g":"r"},{"m":-21.53,"c":2.68,"e":0.04,"g":"r"},{"m":-21.51,"c":2.58,"e":0.04,"g":"r"},{"m":-21.46,"c":2.76,"e":0.03,"g":"r"},{"m":-21.43,"c":2.63,"e":0.04,"g":"r"},{"m":-21.41,"c":2.54,"e":0.04,"g":"r"},{"m":-21.37,"c":2.74,"e":0.03,"g":"r"},{"m":-21.34,"c":2.61,"e":0.04,"g":"r"},{"m":-21.28,"c":2.76,"e":0.03,"g":"r"},{"m":-21.26,"c":2.64,"e":0.04,"g":"r"},{"m":-21.22,"c":2.55,"e":0.04,"g":"r"},{"m":-21.18,"c":2.72,"e":0.03,"g":"r"},{"m":-21.14,"c":2.6,"e":0.04,"g":"r"},{"m":-21.09,"c":2.71,"e":0.03,"g":"r"},{"m":-21.06,"c":2.53,"e":0.04,"g":"r"},{"m":-21.02,"c":2.74,"e":0.03,"g":"r"},{"m":-20.98,"c":2.66,"e":0.03,"g":"r"},{"m":-20.93,"c":2.54,"e":0.04,"g":"r"},{"m":-20.88,"c":2.68,"e":0.03,"g":"r"},{"m":-20.82,"c":2.6,"e":0.03,"g":"r"},{"m":-20.78,"c":2.72,"e":0.03,"g":"r"},{"m":-20.72,"c":2.56,"e":0.03,"g":"r"},{"m":-20.67,"c":2.65,"e":0.03,"g":"r"},{"m":-20.63,"c":2.52,"e":0.03,"g":"r"},{"m":-20.58,"c":2.68,"e":0.03,"g":"r"},{"m":-20.52,"c":2.58,"e":0.02,"g":"r"},{"m":-20.47,"c":2.7,"g":"r"},{"m":-20.38,"c":2.52,"g":"r"},{"m":-23.72,"c":2.92,"e":0.05,"g":"r"},{"m":-23.62,"c":3.17,"e":0.06,"g":"r"},{"m":-23.56,"c":2.97,"e":0.05,"g":"r"},{"m":-23.44,"c":2.75,"e":0.06,"g":"r"},{"m":-23.36,"c":3.14,"e":0.05,"g":"r"},{"m":-23.26,"c":3.22,"e":0.05,"g":"r"},{"m":-23.16,"c":2.84,"e":0.05,"g":"r"},{"m":-22.87,"c":3.14,"e":0.04,"g":"r"},{"m":-22.58,"c":3.07,"e":0.05,"g":"r"},{"m":-22.28,"c":3.03,"e":0.04,"g":"r"},{"m":-21.98,"c":3.06,"e":0.03,"g":"r"},{"m":-21.68,"c":2.94,"e":0.03,"g":"r"},{"m":-21.36,"c":2.86,"e":0.03,"g":"r"},{"m":-21.12,"c":2.84,"e":0.03,"g":"r"},{"m":-20.92,"c":2.82,"e":0.03,"g":"r"},{"m":-23.78,"c":2.68,"e":0.07,"g":"r"},{"m":-23.66,"c":2.72,"e":0.08,"g":"r"},{"m":-23.32,"c":2.5,"e":0.1,"g":"r"},{"m":-23.22,"c":2.42,"e":0.09,"g":"r"},{"m":-22.88,"c":2.5,"e":0.08,"g":"r"},{"m":-22.58,"c":2.48,"e":0.08,"g":"r"},{"m":-22.28,"c":2.42,"e":0.07,"g":"r"},{"m":-21.78,"c":2.4,"e":0.05,"g":"r"},{"m":-21.48,"c":2.36,"e":0.04,"g":"r"},{"m":-20.98,"c":2.45,"e":0.04,"g":"r"},
{"m":-17.63,"c":0.58,"g":"b"},{"m":-12.65,"c":1.38,"g":"b"},{"m":-13.53,"c":1.45,"g":"b"},{"m":-13.65,"c":1.29,"g":"b"},{"m":-14.0,"c":1.22,"g":"b"},{"m":-13.96,"c":1.22,"g":"b"},{"m":-14.53,"c":1.22,"e":0.08,"g":"b"},{"m":-14.66,"c":1.24,"g":"b"},{"m":-13.94,"c":1.38,"g":"b"},{"m":-13.87,"c":1.75,"g":"b"},{"m":-13.96,"c":1.57,"g":"b"},{"m":-14.42,"c":1.53,"g":"b"},{"m":-14.77,"c":1.63,"g":"b"},{"m":-14.34,"c":1.81,"e":0.02,"g":"b"},{"m":-14.82,"c":1.4,"g":"b"},{"m":-14.97,"c":1.46,"g":"b"},{"m":-15.12,"c":1.34,"e":0.03,"g":"b"},{"m":-15.24,"c":1.16,"e":0.14,"g":"b"},{"m":-15.24,"c":1.59,"e":0.07,"g":"b"},{"m":-15.27,"c":1.88,"e":0.03,"g":"b"},{"m":-15.34,"c":1.86,"g":"b"},{"m":-15.65,"c":1.69,"e":0.05,"g":"b"},{"m":-15.91,"c":1.45,"e":0.05,"g":"b"},{"m":-15.93,"c":1.32,"e":0.02,"g":"b"},{"m":-16.07,"c":1.4,"e":0.02,"g":"b"},{"m":-16.2,"c":1.5,"g":"b"},{"m":-16.33,"c":1.5,"e":0.04,"g":"b"},{"m":-16.17,"c":1.77,"e":0.15,"g":"b"},{"m":-16.23,"c":1.93,"e":0.1,"g":"b"},{"m":-16.15,"c":1.93,"e":0.1,"g":"b"},{"m":-16.28,"c":1.89,"g":"b"},{"m":-16.34,"c":1.71,"g":"b"},{"m":-16.42,"c":1.89,"g":"b"},{"m":-16.55,"c":2.02,"e":0.13,"g":"b"},{"m":-16.57,"c":1.86,"e":0.02,"g":"b"},{"m":-16.58,"c":1.77,"e":0.03,"g":"b"},{"m":-16.64,"c":1.42,"e":0.02,"g":"b"},{"m":-16.68,"c":1.2,"g":"b"},{"m":-16.78,"c":1.47,"e":0.38,"g":"b"},{"m":-16.83,"c":1.07,"g":"b"},{"m":-16.8,"c":1.31,"e":0.08,"g":"b"},{"m":-16.72,"c":1.48,"g":"b"},{"m":-16.86,"c":1.44,"g":"b"},{"m":-16.92,"c":1.4,"g":"b"},{"m":-16.96,"c":1.78,"e":0.06,"g":"b"},{"m":-16.91,"c":1.63,"e":0.05,"g":"b"},{"m":-17.04,"c":1.72,"e":0.35,"g":"b"},{"m":-17.05,"c":1.15,"e":0.03,"g":"b"},{"m":-17.01,"c":2.0,"g":"b"},{"m":-17.12,"c":1.44,"e":0.04,"g":"b"},{"m":-17.32,"c":1.65,"g":"b"},{"m":-17.41,"c":1.42,"e":0.3,"g":"b"},{"m":-17.41,"c":1.23,"e":0.17,"g":"b"},{"m":-17.31,"c":1.25,"g":"b"},{"m":-17.41,"c":1.72,"e":0.1,"g":"b"},{"m":-17.45,"c":1.53,"e":0.04,"g":"b"},{"m":-17.5,"c":1.48,"e":0.04,"g":"b"},{"m":-17.65,"c":1.81,"e":0.03,"g":"b"},{"m":-17.66,"c":1.5,"e":0.03,"g":"b"},{"m":-17.73,"c":1.24,"e":0.12,"g":"b"},{"m":-17.6,"c":1.26,"g":"b"},{"m":-17.73,"c":1.37,"e":0.03,"g":"b"},{"m":-17.87,"c":1.89,"e":0.15,"g":"b"},{"m":-17.82,"c":1.74,"e":0.1,"g":"b"},{"m":-17.92,"c":1.55,"g":"b"},{"m":-17.86,"c":1.27,"g":"b"},{"m":-18.07,"c":1.2,"g":"b"},{"m":-17.97,"c":1.06,"e":0.03,"g":"b"},{"m":-18.24,"c":1.0,"g":"b"},{"m":-18.11,"c":1.33,"g":"b"},{"m":-18.24,"c":1.29,"g":"b"},{"m":-18.0,"c":1.35,"g":"b"},{"m":-17.96,"c":1.42,"g":"b"},{"m":-18.42,"c":1.31,"g":"b"},{"m":-18.57,"c":1.4,"g":"b"},{"m":-18.72,"c":1.61,"e":0.2,"g":"b"},{"m":-18.76,"c":1.76,"e":0.05,"g":"b"},{"m":-18.91,"c":1.41,"g":"b"},{"m":-19.0,"c":1.41,"e":0.03,"g":"b"},{"m":-19.0,"c":1.07,"e":0.1,"g":"b"},{"m":-19.07,"c":1.25,"g":"b"},{"m":-18.98,"c":1.26,"g":"b"},{"m":-19.29,"c":1.14,"g":"b"},{"m":-20.04,"c":1.24,"e":0.02,"g":"b"},{"m":-20.07,"c":1.06,"g":"b"},{"m":-20.24,"c":1.13,"g":"b"},{"m":-20.24,"c":1.25,"g":"b"},{"m":-19.95,"c":1.4,"g":"b"},{"m":-20.08,"c":1.38,"g":"b"},{"m":-20.2,"c":1.4,"g":"b"},
{"m":-20.92,"c":0.45,"g":"b"},{"m":-20.57,"c":0.56,"e":0.05,"g":"b"},{"m":-20.92,"c":1.16,"e":0.12,"g":"b"},{"m":-23.27,"c":1.93,"e":0.02,"g":"b"},{"m":-23.15,"c":1.95,"g":"b"},{"m":-23.27,"c":1.81,"g":"b"},{"m":-23.2,"c":1.76,"g":"b"},{"m":-22.95,"c":1.94,"g":"b"},{"m":-22.83,"c":1.96,"e":0.03,"g":"b"},{"m":-22.91,"c":1.83,"g":"b"},{"m":-22.88,"c":1.73,"g":"b"},{"m":-22.7,"c":1.72,"g":"b"},{"m":-22.57,"c":1.55,"g":"b"},{"m":-22.48,"c":1.59,"g":"b"},{"m":-22.33,"c":1.33,"g":"b"},{"m":-22.15,"c":1.31,"g":"b"},{"m":-21.99,"c":1.31,"g":"b"},{"m":-21.88,"c":1.33,"e":0.03,"g":"b"},{"m":-22.04,"c":1.42,"g":"b"},{"m":-22.04,"c":1.55,"g":"b"},{"m":-22.25,"c":1.65,"g":"b"},{"m":-22.35,"c":1.68,"g":"b"},{"m":-21.5,"c":1.52,"e":0.05,"g":"b"},{"m":-21.43,"c":1.42,"g":"b"},{"m":-21.24,"c":1.46,"e":0.05,"g":"b"},{"m":-21.05,"c":1.37,"g":"b"},{"m":-21.02,"c":1.22,"g":"b"},{"m":-20.78,"c":1.25,"g":"b"},{"m":-20.85,"c":1.31,"g":"b"},{"m":-20.7,"c":1.31,"g":"b"},{"m":-20.62,"c":1.47,"g":"b"},{"m":-20.75,"c":1.42,"g":"b"},{"m":-20.88,"c":1.47,"e":0.04,"g":"b"},
{"m":-22.7,"c":2.2,"e":0.02,"g":"b"},{"m":-22.6,"c":2.12,"g":"b"},{"m":-22.52,"c":2.22,"g":"b"},{"m":-22.42,"c":2.1,"g":"b"},{"m":-22.35,"c":2.2,"g":"b"},{"m":-22.25,"c":2.08,"g":"b"},{"m":-22.18,"c":2.16,"g":"b"},{"m":-22.1,"c":2.04,"g":"b"},{"m":-22.0,"c":2.18,"g":"b"},{"m":-21.92,"c":2.05,"e":0.03,"g":"b"},{"m":-21.85,"c":2.16,"g":"b"},{"m":-21.75,"c":2.02,"e":0.05,"g":"b"},{"m":-21.66,"c":2.12,"g":"b"},{"m":-21.58,"c":2.2,"e":0.04,"g":"b"},{"m":-21.5,"c":2.08,"g":"b"},{"m":-21.42,"c":2.15,"g":"b"},{"m":-21.33,"c":2.03,"g":"b"},{"m":-21.25,"c":2.12,"g":"b"},{"m":-21.15,"c":2.05,"g":"b"},{"m":-21.05,"c":2.15,"g":"b"},{"m":-20.95,"c":2.05,"e":0.04,"g":"b"},{"m":-20.85,"c":2.12,"g":"b"},{"m":-20.72,"c":2.2,"g":"b"},{"m":-20.62,"c":2.02,"g":"b"},{"m":-20.42,"c":2.05,"g":"b"},{"m":-20.28,"c":2.02,"e":0.04,"g":"b"},{"m":-22.62,"c":1.98,"g":"b"},{"m":-22.5,"c":1.9,"g":"b"},{"m":-22.42,"c":1.98,"g":"b"},{"m":-22.32,"c":1.85,"g":"b"},{"m":-22.22,"c":1.95,"g":"b"},{"m":-22.15,"c":1.82,"g":"b"},{"m":-22.05,"c":1.92,"g":"b"},{"m":-21.98,"c":1.8,"g":"b"},{"m":-21.9,"c":1.95,"g":"b"},{"m":-21.82,"c":1.85,"g":"b"},{"m":-21.75,"c":1.92,"g":"b"},{"m":-21.68,"c":1.8,"g":"b"},{"m":-21.6,"c":1.95,"g":"b"},{"m":-21.52,"c":1.82,"e":0.03,"g":"b"},{"m":-21.45,"c":1.95,"g":"b"},{"m":-21.38,"c":1.85,"g":"b"},{"m":-21.3,"c":1.92,"g":"b"},{"m":-21.22,"c":1.78,"g":"b"},{"m":-21.15,"c":1.9,"g":"b"},{"m":-21.08,"c":1.8,"g":"b"},{"m":-21.0,"c":1.95,"g":"b"},{"m":-20.92,"c":1.85,"g":"b"},{"m":-20.85,"c":1.92,"g":"b"},{"m":-20.78,"c":1.78,"e":0.04,"g":"b"},{"m":-20.7,"c":1.88,"g":"b"},{"m":-20.62,"c":1.78,"g":"b"},{"m":-20.55,"c":1.9,"g":"b"},{"m":-20.47,"c":1.8,"g":"b"},{"m":-20.4,"c":1.92,"g":"b"},{"m":-20.32,"c":1.78,"g":"b"},{"m":-20.25,"c":1.85,"g":"b"},{"m":-20.18,"c":1.72,"e":0.05,"g":"b"},{"m":-20.1,"c":1.85,"g":"b"},{"m":-20.02,"c":1.75,"g":"b"},{"m":-19.95,"c":1.68,"g":"b"},{"m":-22.38,"c":1.75,"g":"b"},{"m":-22.2,"c":1.72,"g":"b"},{"m":-22.1,"c":1.68,"g":"b"},{"m":-21.95,"c":1.65,"g":"b"},{"m":-21.85,"c":1.72,"g":"b"},{"m":-21.72,"c":1.68,"g":"b"},{"m":-21.62,"c":1.72,"g":"b"},{"m":-21.55,"c":1.62,"g":"b"},{"m":-21.42,"c":1.72,"g":"b"},{"m":-21.3,"c":1.65,"g":"b"},{"m":-21.15,"c":1.7,"g":"b"},{"m":-21.05,"c":1.62,"e":0.04,"g":"b"},{"m":-20.95,"c":1.72,"g":"b"},{"m":-20.82,"c":1.65,"g":"b"},{"m":-20.7,"c":1.7,"g":"b"},{"m":-20.6,"c":1.6,"g":"b"},{"m":-20.5,"c":1.68,"g":"b"},{"m":-20.38,"c":1.62,"g":"b"},{"m":-20.28,"c":1.7,"g":"b"},{"m":-20.15,"c":1.62,"g":"b"},{"m":-20.05,"c":1.55,"g":"b"},{"m":-19.92,"c":1.6,"g":"b"},{"m":-19.8,"c":1.68,"g":"b"},{"m":-21.85,"c":1.55,"g":"b"},{"m":-21.7,"c":1.5,"g":"b"},{"m":-21.32,"c":1.55,"g":"b"},{"m":-21.15,"c":1.52,"e":0.03,"g":"b"},{"m":-20.98,"c":1.5,"g":"b"},{"m":-20.55,"c":1.55,"g":"b"},{"m":-20.42,"c":1.5,"e":0.04,"g":"b"},{"m":-20.3,"c":1.52,"g":"b"},{"m":-20.15,"c":1.48,"g":"b"},{"m":-19.95,"c":1.5,"e":0.04,"g":"b"},{"m":-19.78,"c":1.52,"g":"b"},
{"m":-19.88,"c":2.02,"g":"b"},{"m":-19.75,"c":1.95,"g":"b"},{"m":-19.65,"c":1.88,"g":"b"},{"m":-19.55,"c":1.95,"g":"b"},{"m":-19.42,"c":1.85,"e":0.03,"g":"b"},{"m":-19.35,"c":1.98,"g":"b"},{"m":-19.22,"c":1.82,"g":"b"},{"m":-19.1,"c":1.9,"g":"b"},{"m":-18.95,"c":1.82,"g":"b"},{"m":-18.85,"c":1.95,"g":"b"},{"m":-18.6,"c":1.88,"g":"b"},{"m":-18.45,"c":1.95,"e":0.04,"g":"b"},{"m":-18.3,"c":1.85,"g":"b"},{"m":-18.18,"c":1.9,"g":"b"},{"m":-19.72,"c":1.72,"g":"b"},{"m":-19.6,"c":1.62,"g":"b"},{"m":-19.48,"c":1.72,"g":"b"},{"m":-19.35,"c":1.6,"g":"b"},{"m":-19.22,"c":1.68,"g":"b"},{"m":-19.1,"c":1.55,"g":"b"},{"m":-18.95,"c":1.62,"g":"b"},{"m":-18.85,"c":1.5,"g":"b"},{"m":-18.6,"c":1.55,"e":0.04,"g":"b"},{"m":-18.48,"c":1.68,"g":"b"},{"m":-18.38,"c":1.58,"g":"b"},{"m":-18.25,"c":1.72,"g":"b"},{"m":-18.12,"c":1.62,"g":"b"},{"m":-19.6,"c":1.45,"g":"b"},{"m":-19.45,"c":1.5,"g":"b"},{"m":-19.32,"c":1.42,"g":"b"},{"m":-19.2,"c":1.48,"g":"b"},{"m":-18.75,"c":1.42,"g":"b"},{"m":-18.45,"c":1.48,"g":"b"},{"m":-18.3,"c":1.42,"g":"b"},{"m":-19.45,"c":1.32,"g":"b"},{"m":-19.2,"c":1.3,"g":"b"},{"m":-19.85,"c":1.3,"g":"b"},
{"m":-22.58,"c":2.04,"g":"b"},{"m":-22.47,"c":2.14,"g":"b"},{"m":-22.37,"c":2.03,"g":"b"},{"m":-22.29,"c":1.93,"g":"b"},{"m":-22.27,"c":2.13,"g":"b"},{"m":-22.19,"c":1.88,"g":"b"},{"m":-22.13,"c":1.97,"g":"b"},{"m":-22.07,"c":2.11,"g":"b"},{"m":-22.03,"c":1.86,"g":"b"},{"m":-21.97,"c":2.01,"g":"b"},{"m":-21.94,"c":1.73,"g":"b"},{"m":-21.89,"c":1.88,"g":"b"},{"m":-21.87,"c":2.07,"g":"b"},{"m":-21.83,"c":1.78,"g":"b"},{"m":-21.79,"c":1.97,"g":"b"},{"m":-21.77,"c":2.11,"g":"b"},{"m":-21.73,"c":1.84,"g":"b"},{"m":-21.71,"c":1.76,"g":"b"},{"m":-21.67,"c":2.03,"g":"b"},{"m":-21.64,"c":1.88,"g":"b"},{"m":-21.62,"c":1.66,"g":"b"},{"m":-21.59,"c":2.07,"g":"b"},{"m":-21.56,"c":1.74,"g":"b"},{"m":-21.54,"c":1.97,"g":"b"},{"m":-21.48,"c":1.87,"g":"b"},{"m":-21.47,"c":1.77,"g":"b"},{"m":-21.44,"c":2.03,"g":"b"},{"m":-21.4,"c":1.68,"g":"b"},{"m":-21.36,"c":1.99,"g":"b"},{"m":-21.35,"c":1.79,"g":"b"},{"m":-21.32,"c":2.11,"g":"b"},{"m":-21.28,"c":1.86,"g":"b"},{"m":-21.27,"c":1.71,"g":"b"},{"m":-21.23,"c":1.98,"g":"b"},{"m":-21.2,"c":2.07,"g":"b"},{"m":-21.18,"c":1.84,"g":"b"},{"m":-21.13,"c":1.73,"g":"b"},{"m":-21.11,"c":1.97,"g":"b"},{"m":-21.07,"c":2.09,"g":"b"},{"m":-21.03,"c":1.87,"g":"b"},{"m":-20.98,"c":1.75,"g":"b"},{"m":-20.96,"c":1.99,"g":"b"},{"m":-20.91,"c":1.67,"g":"b"},{"m":-20.88,"c":2.03,"g":"b"},{"m":-20.83,"c":1.84,"g":"b"},{"m":-20.81,"c":1.73,"g":"b"},{"m":-20.77,"c":1.97,"g":"b"},{"m":-20.73,"c":2.08,"g":"b"},{"m":-20.68,"c":1.93,"g":"b"},{"m":-20.66,"c":1.64,"g":"b"},{"m":-20.58,"c":1.97,"g":"b"},{"m":-20.56,"c":1.73,"g":"b"},{"m":-20.52,"c":1.85,"g":"b"},{"m":-20.45,"c":1.99,"g":"b"},{"m":-20.43,"c":1.71,"g":"b"},{"m":-20.37,"c":1.84,"g":"b"},{"m":-20.34,"c":2.09,"g":"b"},{"m":-20.27,"c":1.94,"g":"b"},{"m":-20.23,"c":1.65,"g":"b"},{"m":-20.21,"c":2.03,"g":"b"},{"m":-20.16,"c":1.79,"g":"b"},{"m":-20.13,"c":1.93,"g":"b"},{"m":-20.06,"c":1.83,"g":"b"},{"m":-20.04,"c":1.65,"g":"b"},{"m":-19.97,"c":1.77,"g":"b"},{"m":-19.94,"c":1.93,"g":"b"},{"m":-19.87,"c":1.62,"g":"b"},{"m":-19.83,"c":1.81,"g":"b"},{"m":-19.77,"c":1.6,"g":"b"},{"m":-19.7,"c":1.83,"g":"b"},{"m":-19.63,"c":1.73,"g":"b"},{"m":-19.57,"c":1.52,"g":"b"},{"m":-19.5,"c":1.8,"g":"b"},{"m":-19.42,"c":1.66,"g":"b"},{"m":-19.37,"c":1.53,"g":"b"},{"m":-19.28,"c":1.76,"g":"b"},{"m":-19.16,"c":1.6,"g":"b"},{"m":-19.03,"c":1.73,"g":"b"},{"m":-21.78,"c":1.6,"g":"b"},{"m":-21.6,"c":1.58,"g":"b"},{"m":-21.35,"c":1.46,"g":"b"},{"m":-21.1,"c":1.58,"g":"b"},{"m":-20.9,"c":1.57,"g":"b"},{"m":-20.68,"c":1.53,"g":"b"},{"m":-20.48,"c":1.43,"g":"b"},{"m":-20.33,"c":1.62,"g":"b"},{"m":-20.1,"c":1.42,"g":"b"}
]},"layer":[
{"transform":[{"filter":"datum.e"}],"mark":{"type":"errorbar","ticks":false,"thickness":1.2,"opacity":0.55},"encoding":{"x":{"field":"m","type":"quantitative","scale":{"domain":[-27,-12.48],"nice":false,"zero":false},"axis":{"values":[-26,-24,-22,-20,-18,-16,-14],"title":"Absolute r magnitude","titlePadding":2}},"y":{"field":"c","type":"quantitative","scale":{"domain":[0,4.5],"nice":false},"axis":{"values":[0,0.5,1,1.5,2,2.5,3,3.5,4,4.5],"format":".1f","title":"u-r","titlePadding":1}},"yError":{"field":"e"},"color":{"field":"g","scale":{"domain":["r","g","b"],"range":["#ff0000","#008000","#0000ff"]},"legend":null}}},
{"mark":{"type":"circle","size":9,"opacity":0.6},"encoding":{"x":{"field":"m","type":"quantitative","scale":{"domain":[-27,-12.48],"nice":false,"zero":false},"axis":{"values":[-26,-24,-22,-20,-18,-16,-14],"title":"Absolute r magnitude","titlePadding":2}},"y":{"field":"c","type":"quantitative","scale":{"domain":[0,4.5],"nice":false},"axis":{"values":[0,0.5,1,1.5,2,2.5,3,3.5,4,4.5],"format":".1f","title":"u-r","titlePadding":1}},"color":{"field":"g","scale":{"domain":["r","g","b"],"range":["#ff0000","#008000","#0000ff"]},"legend":null}}}
]}
]}
